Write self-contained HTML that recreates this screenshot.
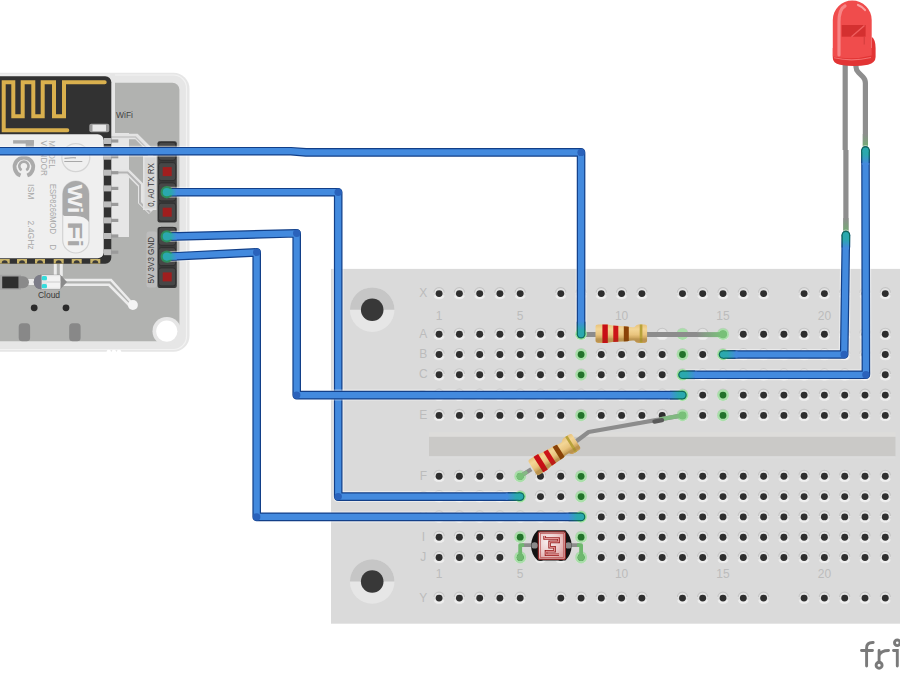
<!DOCTYPE html>
<html><head><meta charset="utf-8"><style>
html,body{margin:0;padding:0;background:#fff;overflow:hidden;}
svg{display:block;}
</style></head><body>
<svg width="900" height="675" viewBox="0 0 900 675">
<defs>
<radialGradient id="hw" cx="0.5" cy="0.5" r="0.5"><stop offset="0.5" stop-color="#efefef"/><stop offset="0.8" stop-color="#e8e8e8"/><stop offset="1" stop-color="#e0e0e0" stop-opacity="0"/></radialGradient>
<linearGradient id="resg" x1="0" y1="0" x2="0" y2="1"><stop offset="0" stop-color="#e8c27c"/><stop offset="0.25" stop-color="#f3d696"/><stop offset="0.55" stop-color="#e9c47e"/><stop offset="0.7" stop-color="#d2aa62"/><stop offset="1" stop-color="#c89e58"/></linearGradient>
</defs>
<rect width="900" height="675" fill="#fff"/>
<g id="esp">
<rect x="-30" y="72.8" width="219.5" height="279" rx="16" fill="#e6e6e6"/>
<rect x="-30" y="75" width="216.5" height="274.5" rx="13" fill="none" stroke="#f2f2f2" stroke-width="1.2"/>
<rect x="-30" y="82.8" width="209.4" height="258.5" rx="7" fill="#b1b2b0"/>
<circle cx="108.8" cy="352" r="2.3" fill="#ffffff"/>
<circle cx="113.9" cy="352" r="2.3" fill="#ffffff"/>
<circle cx="119" cy="352" r="2.3" fill="#ffffff"/>
<circle cx="166.8" cy="331.2" r="14.3" fill="#e6e6e6"/>
<circle cx="166.8" cy="331.2" r="10.6" fill="#fff"/>
<path d="M111 133 L129 133 L129 237 L111 237 Z" fill="#e6e6e6"/>
<rect x="110" y="74" width="5" height="60" fill="#e6e6e6"/>
<path d="M111 136.5 H136.5 L150.5 150.5 V158" fill="none" stroke="#e4e4e4" stroke-width="5.5"/>
<path d="M111 137 H135.5 L148 149.5" fill="none" stroke="#c4c4c4" stroke-width="1.6"/>
<path d="M118 172.4 H128 L141 185.4 V202 L151 212" fill="none" stroke="#e4e4e4" stroke-width="6"/>
<path d="M118 172.4 H127.5 L140 185 V202.5 L150 212.5" fill="none" stroke="#b4b4b4" stroke-width="2"/>
<rect x="143" y="156" width="13.5" height="54" fill="#e2e2e2"/>
<rect x="144.6" y="157.5" width="11" height="51" fill="#d6d6d6"/>
<rect x="146.5" y="231.5" width="10.5" height="56" rx="2.5" fill="#bdbdbd"/>
<path d="M55.3 263 V276 M61.3 263 V276" stroke="#ececec" stroke-width="3"/>
<path d="M60 280 H111 L131 302" fill="none" stroke="#ececec" stroke-width="2.6"/>
<path d="M60 284.8 H109 L129 305" fill="none" stroke="#ececec" stroke-width="2.6"/>
<circle cx="132.9" cy="305" r="5" fill="#f4f4f4"/>
<path d="M24 282 H36" stroke="#ececec" stroke-width="6"/>
<rect x="-3" y="274.8" width="24" height="15" fill="#a3a3a3"/>
<rect x="2.2" y="276.5" width="16.5" height="11.8" fill="#2e2e2e"/>
<path d="M18.7 276.3 H23 A6 6 0 0 1 23 288.3 H18.7 Z" fill="#8a8a8a"/>
<path d="M41 274.7 H60.3 L67 282 L60.3 289.3 H41 A7.3 7.3 0 0 1 41 274.7 Z" fill="#8a8a8a"/>
<path d="M41 274.7 A7.3 7.3 0 0 0 41 289.3 Z" fill="#7c7c88"/>
<rect x="41.7" y="275" width="18.6" height="14" fill="#e4e4e4"/>
<rect x="47" y="276.2" width="13.3" height="11.6" fill="#f2f2f2"/>
<rect x="47" y="281.3" width="13.3" height="1.4" fill="#d8d8d8"/>
<rect x="41.7" y="276" width="5.3" height="4.2" rx="1.5" fill="#36dcdc"/>
<rect x="41.7" y="284" width="5.3" height="4.2" rx="1.5" fill="#36dcdc"/>
<text x="49" y="297.7" font-family="'Liberation Sans', sans-serif" font-size="8.5" fill="#383838" text-anchor="middle">Cloud</text>
<circle cx="34.2" cy="307.8" r="3.4" fill="#2b2b2b"/>
<circle cx="66" cy="307.8" r="3.4" fill="#2b2b2b"/>
<rect x="18.7" y="323.3" width="11.4" height="18" rx="3.5" fill="#888"/>
<rect x="69.2" y="323.3" width="11.4" height="18" rx="3.5" fill="#888"/>
<rect x="-20" y="76.3" width="131.3" height="187.4" rx="6" fill="#323232"/>
<rect x="-0.3" y="259" width="10" height="4.6" fill="#c9b46a"/>
<path d="M1.7 263.2 A3 3 0 0 1 7.7 263.2 Z" fill="#3a3a3a"/>
<rect x="17.0" y="259" width="10" height="4.6" fill="#c9b46a"/>
<path d="M19.0 263.2 A3 3 0 0 1 25.0 263.2 Z" fill="#3a3a3a"/>
<rect x="35.0" y="259" width="10" height="4.6" fill="#c9b46a"/>
<path d="M37.0 263.2 A3 3 0 0 1 43.0 263.2 Z" fill="#3a3a3a"/>
<rect x="53.7" y="259" width="10" height="4.6" fill="#c9b46a"/>
<path d="M55.7 263.2 A3 3 0 0 1 61.7 263.2 Z" fill="#3a3a3a"/>
<rect x="71.7" y="259" width="10" height="4.6" fill="#c9b46a"/>
<path d="M73.7 263.2 A3 3 0 0 1 79.7 263.2 Z" fill="#3a3a3a"/>
<rect x="90.3" y="259" width="10" height="4.6" fill="#c9b46a"/>
<path d="M92.3 263.2 A3 3 0 0 1 98.3 263.2 Z" fill="#3a3a3a"/>
<rect x="104" y="138.0" width="7.5" height="6" fill="#bdbdbd"/>
<rect x="111" y="139.4" width="7.3" height="3.2" fill="#9a9a9a"/>
<rect x="104" y="153.7" width="7.5" height="6" fill="#bdbdbd"/>
<rect x="111" y="155.1" width="7.3" height="3.2" fill="#9a9a9a"/>
<rect x="104" y="169.7" width="7.5" height="6" fill="#bdbdbd"/>
<rect x="111" y="171.1" width="7.3" height="3.2" fill="#9a9a9a"/>
<rect x="104" y="185.4" width="7.5" height="6" fill="#bdbdbd"/>
<rect x="111" y="186.8" width="7.3" height="3.2" fill="#9a9a9a"/>
<rect x="104" y="201.4" width="7.5" height="6" fill="#bdbdbd"/>
<rect x="111" y="202.8" width="7.3" height="3.2" fill="#9a9a9a"/>
<rect x="104" y="217.4" width="7.5" height="6" fill="#bdbdbd"/>
<rect x="111" y="218.8" width="7.3" height="3.2" fill="#9a9a9a"/>
<rect x="104" y="233.0" width="7.5" height="6" fill="#bdbdbd"/>
<rect x="111" y="234.4" width="7.3" height="3.2" fill="#9a9a9a"/>
<rect x="104" y="249.2" width="7.5" height="6" fill="#bdbdbd"/>
<rect x="111" y="250.6" width="7.3" height="3.2" fill="#9a9a9a"/>
<path d="M104.7 82.3 H64 V116.3 H54 V82.3 H42.7 V116.3 H33.3 V82.3 H22.7 V116.3 H13.3 V82.3 H3.7 V130.3 H67.3" fill="none" stroke="#d9b04e" stroke-width="4" stroke-linecap="round" stroke-linejoin="miter"/>
<rect x="89.3" y="123.7" width="20" height="8.6" rx="2" fill="#9c9c9c"/>
<rect x="92.5" y="124.8" width="13.5" height="6.4" fill="#e8e8e8"/>
<rect x="-20" y="134.2" width="123.7" height="124.1" rx="6" fill="#efefef"/>
<g fill="#aaaaaa">
<rect x="13.1" y="140.2" width="20.8" height="3.4"/>
<rect x="25.7" y="140.2" width="8.2" height="7"/>
</g>
<path d="M20.5 175.5 A9.3 9.3 0 1 1 27.3 175.5" fill="none" stroke="#aaaaaa" stroke-width="3.8"/>
<path d="M21.6 170.2 A4.6 4.6 0 1 1 26.2 170.2" fill="none" stroke="#aaaaaa" stroke-width="2.6"/>
<g font-family="'Liberation Sans', sans-serif" font-size="9" fill="#a9a9a9">
<text transform="translate(49.4 140.6) rotate(90)" textLength="28" lengthAdjust="spacingAndGlyphs">MODEL</text>
<text transform="translate(41 140.6) rotate(90)" textLength="35.4" lengthAdjust="spacingAndGlyphs">VENDOR</text>
<text transform="translate(28 184) rotate(90)" textLength="15.4" lengthAdjust="spacingAndGlyphs">ISM</text>
<text transform="translate(28 220.6) rotate(90)" textLength="29" lengthAdjust="spacingAndGlyphs">2.4GHz</text>
<text transform="translate(49.6 184) rotate(90)" textLength="50" lengthAdjust="spacingAndGlyphs">ESP8266MOD</text>
<text transform="translate(49.6 244.6) rotate(90)" textLength="5.5" lengthAdjust="spacingAndGlyphs">D</text>
</g>
<circle cx="75.8" cy="157.6" r="14" fill="none" stroke="#d4d4d4" stroke-width="1.3"/>
<path d="M64.5 158.3 Q70 157.6 76 157.8 M64.3 161.5 H82.3" stroke="#a8a8a8" stroke-width="1.2"/>
<rect x="62.7" y="181" width="26.3" height="72" rx="13.1" fill="#f2f2f2" stroke="#d2d2d2" stroke-width="1.2"/>
<path d="M62.7 214 V194.1 A13.15 13.15 0 0 1 89 194.1 V222 Q85 216 76 216 H66 Q62.7 216 62.7 214 Z" fill="#a9a9a9"/>
<text transform="translate(67.5 184.5) rotate(90)" font-family="'Liberation Sans', sans-serif" font-size="21" font-weight="bold" fill="#f2f2f2" textLength="29" lengthAdjust="spacingAndGlyphs">Wi</text>
<text transform="translate(67.5 221.5) rotate(90)" font-family="'Liberation Sans', sans-serif" font-size="21" font-weight="bold" fill="#a9a9a9" textLength="26" lengthAdjust="spacingAndGlyphs">Fi</text>
<text x="116" y="117.5" font-family="'Liberation Sans', sans-serif" font-size="8.5" fill="#444">WiFi</text>
<rect x="157.5" y="141.2" width="19.3" height="81.2" rx="2" fill="#3a3a3a"/>
<rect x="157.5" y="227.1" width="19.3" height="60.9" rx="2" fill="#3a3a3a"/>
<rect x="158.6" y="142.3" width="17.1" height="18" rx="2.6" fill="#474747" stroke="#2c2c2c" stroke-width="0.9"/>
<rect x="158.6" y="162.6" width="17.1" height="18" rx="2.6" fill="#474747" stroke="#2c2c2c" stroke-width="0.9"/>
<rect x="162.7" y="167.1" width="9" height="9" fill="#a01e1e"/>
<rect x="158.6" y="182.9" width="17.1" height="18" rx="2.6" fill="#474747" stroke="#2c2c2c" stroke-width="0.9"/>
<rect x="158.6" y="203.2" width="17.1" height="18" rx="2.6" fill="#474747" stroke="#2c2c2c" stroke-width="0.9"/>
<rect x="162.7" y="207.7" width="9" height="9" fill="#a01e1e"/>
<rect x="158.6" y="227.3" width="17.1" height="18" rx="2.6" fill="#474747" stroke="#2c2c2c" stroke-width="0.9"/>
<rect x="158.6" y="247.6" width="17.1" height="18" rx="2.6" fill="#474747" stroke="#2c2c2c" stroke-width="0.9"/>
<rect x="158.6" y="267.9" width="17.1" height="18" rx="2.6" fill="#474747" stroke="#2c2c2c" stroke-width="0.9"/>
<rect x="162.7" y="272.4" width="9" height="9" fill="#a01e1e"/>
<g font-family="'Liberation Sans', sans-serif" font-size="8.2" fill="#3a3a3a">
<text transform="translate(154 206.8) rotate(-90)" textLength="43.5" lengthAdjust="spacingAndGlyphs">0, A0 TX RX</text>
<text transform="translate(154.2 283.5) rotate(-90)" textLength="46.5" lengthAdjust="spacingAndGlyphs">5V 3V3 GND</text>
</g>
</g>
<g id="bb">
<rect x="331" y="268.9" width="580" height="354.8" fill="#dadada"/>
<rect x="429" y="432.2" width="466.5" height="4.6" fill="#dddcda"/>
<rect x="429" y="436.8" width="466.5" height="19.6" fill="#cac9c7"/>
<rect x="429" y="456.4" width="466.5" height="2" fill="#dcdcdc"/>
<circle cx="372.2" cy="309.7" r="22.3" fill="#e6e6e6"/>
<path d="M349.9 309.7 A22.3 22.3 0 0 1 394.5 309.7 Z" fill="#c6c6c6"/>
<circle cx="372.2" cy="309.7" r="11.3" fill="#383838"/>
<circle cx="372.2" cy="581.5" r="22.3" fill="#e6e6e6"/>
<path d="M349.9 581.5 A22.3 22.3 0 0 1 394.5 581.5 Z" fill="#c6c6c6"/>
<circle cx="372.2" cy="581.5" r="11.3" fill="#383838"/>
<g>
<g transform="translate(439.1 334.2)"><path d="M-6.3 0A6.3 6.3 0 0 0 6.3 0Z" fill="url(#hw)"/><path d="M-6 0A6 6 0 0 1 6 0Z" fill="#e3e3e3"/><path d="M-5.2-.8A5.2 5.2 0 0 1 5.2-.8" fill="none" stroke="#c5c5c5" stroke-width="1.1"/><circle r="3.45" fill="#2e2e2e"/></g>
<g transform="translate(459.4 334.2)"><path d="M-6.3 0A6.3 6.3 0 0 0 6.3 0Z" fill="url(#hw)"/><path d="M-6 0A6 6 0 0 1 6 0Z" fill="#e3e3e3"/><path d="M-5.2-.8A5.2 5.2 0 0 1 5.2-.8" fill="none" stroke="#c5c5c5" stroke-width="1.1"/><circle r="3.45" fill="#2e2e2e"/></g>
<g transform="translate(479.7 334.2)"><path d="M-6.3 0A6.3 6.3 0 0 0 6.3 0Z" fill="url(#hw)"/><path d="M-6 0A6 6 0 0 1 6 0Z" fill="#e3e3e3"/><path d="M-5.2-.8A5.2 5.2 0 0 1 5.2-.8" fill="none" stroke="#c5c5c5" stroke-width="1.1"/><circle r="3.45" fill="#2e2e2e"/></g>
<g transform="translate(499.9 334.2)"><path d="M-6.3 0A6.3 6.3 0 0 0 6.3 0Z" fill="url(#hw)"/><path d="M-6 0A6 6 0 0 1 6 0Z" fill="#e3e3e3"/><path d="M-5.2-.8A5.2 5.2 0 0 1 5.2-.8" fill="none" stroke="#c5c5c5" stroke-width="1.1"/><circle r="3.45" fill="#2e2e2e"/></g>
<g transform="translate(520.2 334.2)"><path d="M-6.3 0A6.3 6.3 0 0 0 6.3 0Z" fill="url(#hw)"/><path d="M-6 0A6 6 0 0 1 6 0Z" fill="#e3e3e3"/><path d="M-5.2-.8A5.2 5.2 0 0 1 5.2-.8" fill="none" stroke="#c5c5c5" stroke-width="1.1"/><circle r="3.45" fill="#2e2e2e"/></g>
<g transform="translate(540.5 334.2)"><path d="M-6.3 0A6.3 6.3 0 0 0 6.3 0Z" fill="url(#hw)"/><path d="M-6 0A6 6 0 0 1 6 0Z" fill="#e3e3e3"/><path d="M-5.2-.8A5.2 5.2 0 0 1 5.2-.8" fill="none" stroke="#c5c5c5" stroke-width="1.1"/><circle r="3.45" fill="#2e2e2e"/></g>
<g transform="translate(560.8 334.2)"><path d="M-6.3 0A6.3 6.3 0 0 0 6.3 0Z" fill="url(#hw)"/><path d="M-6 0A6 6 0 0 1 6 0Z" fill="#e3e3e3"/><path d="M-5.2-.8A5.2 5.2 0 0 1 5.2-.8" fill="none" stroke="#c5c5c5" stroke-width="1.1"/><circle r="3.45" fill="#2e2e2e"/></g>
<g transform="translate(581.1 334.2)"><path d="M-6.3 0A6.3 6.3 0 0 0 6.3 0Z" fill="url(#hw)"/><path d="M-6 0A6 6 0 0 1 6 0Z" fill="#e3e3e3"/><path d="M-5.2-.8A5.2 5.2 0 0 1 5.2-.8" fill="none" stroke="#c5c5c5" stroke-width="1.1"/><circle r="3.45" fill="#2e2e2e"/></g>
<g transform="translate(601.3 334.2)"><path d="M-6.3 0A6.3 6.3 0 0 0 6.3 0Z" fill="url(#hw)"/><path d="M-6 0A6 6 0 0 1 6 0Z" fill="#e3e3e3"/><path d="M-5.2-.8A5.2 5.2 0 0 1 5.2-.8" fill="none" stroke="#c5c5c5" stroke-width="1.1"/></g>
<g transform="translate(621.6 334.2)"><path d="M-6.3 0A6.3 6.3 0 0 0 6.3 0Z" fill="url(#hw)"/><path d="M-6 0A6 6 0 0 1 6 0Z" fill="#e3e3e3"/><path d="M-5.2-.8A5.2 5.2 0 0 1 5.2-.8" fill="none" stroke="#c5c5c5" stroke-width="1.1"/></g>
<g transform="translate(641.9 334.2)"><path d="M-6.3 0A6.3 6.3 0 0 0 6.3 0Z" fill="url(#hw)"/><path d="M-6 0A6 6 0 0 1 6 0Z" fill="#e3e3e3"/><path d="M-5.2-.8A5.2 5.2 0 0 1 5.2-.8" fill="none" stroke="#c5c5c5" stroke-width="1.1"/></g>
<g transform="translate(662.2 334.2)"><path d="M-6.3 0A6.3 6.3 0 0 0 6.3 0Z" fill="url(#hw)"/><path d="M-6 0A6 6 0 0 1 6 0Z" fill="#e3e3e3"/><path d="M-5.2-.8A5.2 5.2 0 0 1 5.2-.8" fill="none" stroke="#c5c5c5" stroke-width="1.1"/></g>
<g transform="translate(682.5 334.2)"><path d="M-6.3 0A6.3 6.3 0 0 0 6.3 0Z" fill="url(#hw)"/><path d="M-6 0A6 6 0 0 1 6 0Z" fill="#e3e3e3"/><path d="M-5.2-.8A5.2 5.2 0 0 1 5.2-.8" fill="none" stroke="#c5c5c5" stroke-width="1.1"/></g>
<g transform="translate(702.7 334.2)"><path d="M-6.3 0A6.3 6.3 0 0 0 6.3 0Z" fill="url(#hw)"/><path d="M-6 0A6 6 0 0 1 6 0Z" fill="#e3e3e3"/><path d="M-5.2-.8A5.2 5.2 0 0 1 5.2-.8" fill="none" stroke="#c5c5c5" stroke-width="1.1"/></g>
<g transform="translate(723 334.2)"><path d="M-6.3 0A6.3 6.3 0 0 0 6.3 0Z" fill="url(#hw)"/><path d="M-6 0A6 6 0 0 1 6 0Z" fill="#e3e3e3"/><path d="M-5.2-.8A5.2 5.2 0 0 1 5.2-.8" fill="none" stroke="#c5c5c5" stroke-width="1.1"/><circle r="3.45" fill="#2e2e2e"/></g>
<g transform="translate(743.3 334.2)"><path d="M-6.3 0A6.3 6.3 0 0 0 6.3 0Z" fill="url(#hw)"/><path d="M-6 0A6 6 0 0 1 6 0Z" fill="#e3e3e3"/><path d="M-5.2-.8A5.2 5.2 0 0 1 5.2-.8" fill="none" stroke="#c5c5c5" stroke-width="1.1"/><circle r="3.45" fill="#2e2e2e"/></g>
<g transform="translate(763.6 334.2)"><path d="M-6.3 0A6.3 6.3 0 0 0 6.3 0Z" fill="url(#hw)"/><path d="M-6 0A6 6 0 0 1 6 0Z" fill="#e3e3e3"/><path d="M-5.2-.8A5.2 5.2 0 0 1 5.2-.8" fill="none" stroke="#c5c5c5" stroke-width="1.1"/><circle r="3.45" fill="#2e2e2e"/></g>
<g transform="translate(783.9 334.2)"><path d="M-6.3 0A6.3 6.3 0 0 0 6.3 0Z" fill="url(#hw)"/><path d="M-6 0A6 6 0 0 1 6 0Z" fill="#e3e3e3"/><path d="M-5.2-.8A5.2 5.2 0 0 1 5.2-.8" fill="none" stroke="#c5c5c5" stroke-width="1.1"/><circle r="3.45" fill="#2e2e2e"/></g>
<g transform="translate(804.1 334.2)"><path d="M-6.3 0A6.3 6.3 0 0 0 6.3 0Z" fill="url(#hw)"/><path d="M-6 0A6 6 0 0 1 6 0Z" fill="#e3e3e3"/><path d="M-5.2-.8A5.2 5.2 0 0 1 5.2-.8" fill="none" stroke="#c5c5c5" stroke-width="1.1"/><circle r="3.45" fill="#2e2e2e"/></g>
<g transform="translate(824.4 334.2)"><path d="M-6.3 0A6.3 6.3 0 0 0 6.3 0Z" fill="url(#hw)"/><path d="M-6 0A6 6 0 0 1 6 0Z" fill="#e3e3e3"/><path d="M-5.2-.8A5.2 5.2 0 0 1 5.2-.8" fill="none" stroke="#c5c5c5" stroke-width="1.1"/><circle r="3.45" fill="#2e2e2e"/></g>
<g transform="translate(844.7 334.2)"><path d="M-6.3 0A6.3 6.3 0 0 0 6.3 0Z" fill="url(#hw)"/><path d="M-6 0A6 6 0 0 1 6 0Z" fill="#e3e3e3"/><path d="M-5.2-.8A5.2 5.2 0 0 1 5.2-.8" fill="none" stroke="#c5c5c5" stroke-width="1.1"/><circle r="3.45" fill="#2e2e2e"/></g>
<g transform="translate(865 334.2)"><path d="M-6.3 0A6.3 6.3 0 0 0 6.3 0Z" fill="url(#hw)"/><path d="M-6 0A6 6 0 0 1 6 0Z" fill="#e3e3e3"/><path d="M-5.2-.8A5.2 5.2 0 0 1 5.2-.8" fill="none" stroke="#c5c5c5" stroke-width="1.1"/><circle r="3.45" fill="#2e2e2e"/></g>
<g transform="translate(885.3 334.2)"><path d="M-6.3 0A6.3 6.3 0 0 0 6.3 0Z" fill="url(#hw)"/><path d="M-6 0A6 6 0 0 1 6 0Z" fill="#e3e3e3"/><path d="M-5.2-.8A5.2 5.2 0 0 1 5.2-.8" fill="none" stroke="#c5c5c5" stroke-width="1.1"/><circle r="3.45" fill="#2e2e2e"/></g>
<g transform="translate(439.1 354.5)"><path d="M-6.3 0A6.3 6.3 0 0 0 6.3 0Z" fill="url(#hw)"/><path d="M-6 0A6 6 0 0 1 6 0Z" fill="#e3e3e3"/><path d="M-5.2-.8A5.2 5.2 0 0 1 5.2-.8" fill="none" stroke="#c5c5c5" stroke-width="1.1"/><circle r="3.45" fill="#2e2e2e"/></g>
<g transform="translate(459.4 354.5)"><path d="M-6.3 0A6.3 6.3 0 0 0 6.3 0Z" fill="url(#hw)"/><path d="M-6 0A6 6 0 0 1 6 0Z" fill="#e3e3e3"/><path d="M-5.2-.8A5.2 5.2 0 0 1 5.2-.8" fill="none" stroke="#c5c5c5" stroke-width="1.1"/><circle r="3.45" fill="#2e2e2e"/></g>
<g transform="translate(479.7 354.5)"><path d="M-6.3 0A6.3 6.3 0 0 0 6.3 0Z" fill="url(#hw)"/><path d="M-6 0A6 6 0 0 1 6 0Z" fill="#e3e3e3"/><path d="M-5.2-.8A5.2 5.2 0 0 1 5.2-.8" fill="none" stroke="#c5c5c5" stroke-width="1.1"/><circle r="3.45" fill="#2e2e2e"/></g>
<g transform="translate(499.9 354.5)"><path d="M-6.3 0A6.3 6.3 0 0 0 6.3 0Z" fill="url(#hw)"/><path d="M-6 0A6 6 0 0 1 6 0Z" fill="#e3e3e3"/><path d="M-5.2-.8A5.2 5.2 0 0 1 5.2-.8" fill="none" stroke="#c5c5c5" stroke-width="1.1"/><circle r="3.45" fill="#2e2e2e"/></g>
<g transform="translate(520.2 354.5)"><path d="M-6.3 0A6.3 6.3 0 0 0 6.3 0Z" fill="url(#hw)"/><path d="M-6 0A6 6 0 0 1 6 0Z" fill="#e3e3e3"/><path d="M-5.2-.8A5.2 5.2 0 0 1 5.2-.8" fill="none" stroke="#c5c5c5" stroke-width="1.1"/><circle r="3.45" fill="#2e2e2e"/></g>
<g transform="translate(540.5 354.5)"><path d="M-6.3 0A6.3 6.3 0 0 0 6.3 0Z" fill="url(#hw)"/><path d="M-6 0A6 6 0 0 1 6 0Z" fill="#e3e3e3"/><path d="M-5.2-.8A5.2 5.2 0 0 1 5.2-.8" fill="none" stroke="#c5c5c5" stroke-width="1.1"/><circle r="3.45" fill="#2e2e2e"/></g>
<g transform="translate(560.8 354.5)"><path d="M-6.3 0A6.3 6.3 0 0 0 6.3 0Z" fill="url(#hw)"/><path d="M-6 0A6 6 0 0 1 6 0Z" fill="#e3e3e3"/><path d="M-5.2-.8A5.2 5.2 0 0 1 5.2-.8" fill="none" stroke="#c5c5c5" stroke-width="1.1"/><circle r="3.45" fill="#2e2e2e"/></g>
<g transform="translate(581.1 354.5)"><path d="M-6.3 0A6.3 6.3 0 0 0 6.3 0Z" fill="url(#hw)"/><path d="M-6 0A6 6 0 0 1 6 0Z" fill="#e3e3e3"/><path d="M-5.2-.8A5.2 5.2 0 0 1 5.2-.8" fill="none" stroke="#c5c5c5" stroke-width="1.1"/><circle r="3.45" fill="#2e2e2e"/></g>
<g transform="translate(601.3 354.5)"><path d="M-6.3 0A6.3 6.3 0 0 0 6.3 0Z" fill="url(#hw)"/><path d="M-6 0A6 6 0 0 1 6 0Z" fill="#e3e3e3"/><path d="M-5.2-.8A5.2 5.2 0 0 1 5.2-.8" fill="none" stroke="#c5c5c5" stroke-width="1.1"/><circle r="3.45" fill="#2e2e2e"/></g>
<g transform="translate(621.6 354.5)"><path d="M-6.3 0A6.3 6.3 0 0 0 6.3 0Z" fill="url(#hw)"/><path d="M-6 0A6 6 0 0 1 6 0Z" fill="#e3e3e3"/><path d="M-5.2-.8A5.2 5.2 0 0 1 5.2-.8" fill="none" stroke="#c5c5c5" stroke-width="1.1"/><circle r="3.45" fill="#2e2e2e"/></g>
<g transform="translate(641.9 354.5)"><path d="M-6.3 0A6.3 6.3 0 0 0 6.3 0Z" fill="url(#hw)"/><path d="M-6 0A6 6 0 0 1 6 0Z" fill="#e3e3e3"/><path d="M-5.2-.8A5.2 5.2 0 0 1 5.2-.8" fill="none" stroke="#c5c5c5" stroke-width="1.1"/><circle r="3.45" fill="#2e2e2e"/></g>
<g transform="translate(662.2 354.5)"><path d="M-6.3 0A6.3 6.3 0 0 0 6.3 0Z" fill="url(#hw)"/><path d="M-6 0A6 6 0 0 1 6 0Z" fill="#e3e3e3"/><path d="M-5.2-.8A5.2 5.2 0 0 1 5.2-.8" fill="none" stroke="#c5c5c5" stroke-width="1.1"/><circle r="3.45" fill="#2e2e2e"/></g>
<g transform="translate(682.5 354.5)"><path d="M-6.3 0A6.3 6.3 0 0 0 6.3 0Z" fill="url(#hw)"/><path d="M-6 0A6 6 0 0 1 6 0Z" fill="#e3e3e3"/><path d="M-5.2-.8A5.2 5.2 0 0 1 5.2-.8" fill="none" stroke="#c5c5c5" stroke-width="1.1"/><circle r="3.45" fill="#2e2e2e"/></g>
<g transform="translate(702.7 354.5)"><path d="M-6.3 0A6.3 6.3 0 0 0 6.3 0Z" fill="url(#hw)"/><path d="M-6 0A6 6 0 0 1 6 0Z" fill="#e3e3e3"/><path d="M-5.2-.8A5.2 5.2 0 0 1 5.2-.8" fill="none" stroke="#c5c5c5" stroke-width="1.1"/><circle r="3.45" fill="#2e2e2e"/></g>
<g transform="translate(723 354.5)"><path d="M-6.3 0A6.3 6.3 0 0 0 6.3 0Z" fill="url(#hw)"/><path d="M-6 0A6 6 0 0 1 6 0Z" fill="#e3e3e3"/><path d="M-5.2-.8A5.2 5.2 0 0 1 5.2-.8" fill="none" stroke="#c5c5c5" stroke-width="1.1"/><circle r="3.45" fill="#2e2e2e"/></g>
<g transform="translate(743.3 354.5)"><path d="M-6.3 0A6.3 6.3 0 0 0 6.3 0Z" fill="url(#hw)"/><path d="M-6 0A6 6 0 0 1 6 0Z" fill="#e3e3e3"/><path d="M-5.2-.8A5.2 5.2 0 0 1 5.2-.8" fill="none" stroke="#c5c5c5" stroke-width="1.1"/><circle r="3.45" fill="#2e2e2e"/></g>
<g transform="translate(763.6 354.5)"><path d="M-6.3 0A6.3 6.3 0 0 0 6.3 0Z" fill="url(#hw)"/><path d="M-6 0A6 6 0 0 1 6 0Z" fill="#e3e3e3"/><path d="M-5.2-.8A5.2 5.2 0 0 1 5.2-.8" fill="none" stroke="#c5c5c5" stroke-width="1.1"/><circle r="3.45" fill="#2e2e2e"/></g>
<g transform="translate(783.9 354.5)"><path d="M-6.3 0A6.3 6.3 0 0 0 6.3 0Z" fill="url(#hw)"/><path d="M-6 0A6 6 0 0 1 6 0Z" fill="#e3e3e3"/><path d="M-5.2-.8A5.2 5.2 0 0 1 5.2-.8" fill="none" stroke="#c5c5c5" stroke-width="1.1"/><circle r="3.45" fill="#2e2e2e"/></g>
<g transform="translate(804.1 354.5)"><path d="M-6.3 0A6.3 6.3 0 0 0 6.3 0Z" fill="url(#hw)"/><path d="M-6 0A6 6 0 0 1 6 0Z" fill="#e3e3e3"/><path d="M-5.2-.8A5.2 5.2 0 0 1 5.2-.8" fill="none" stroke="#c5c5c5" stroke-width="1.1"/><circle r="3.45" fill="#2e2e2e"/></g>
<g transform="translate(824.4 354.5)"><path d="M-6.3 0A6.3 6.3 0 0 0 6.3 0Z" fill="url(#hw)"/><path d="M-6 0A6 6 0 0 1 6 0Z" fill="#e3e3e3"/><path d="M-5.2-.8A5.2 5.2 0 0 1 5.2-.8" fill="none" stroke="#c5c5c5" stroke-width="1.1"/><circle r="3.45" fill="#2e2e2e"/></g>
<g transform="translate(844.7 354.5)"><path d="M-6.3 0A6.3 6.3 0 0 0 6.3 0Z" fill="url(#hw)"/><path d="M-6 0A6 6 0 0 1 6 0Z" fill="#e3e3e3"/><path d="M-5.2-.8A5.2 5.2 0 0 1 5.2-.8" fill="none" stroke="#c5c5c5" stroke-width="1.1"/><circle r="3.45" fill="#2e2e2e"/></g>
<g transform="translate(865 354.5)"><path d="M-6.3 0A6.3 6.3 0 0 0 6.3 0Z" fill="url(#hw)"/><path d="M-6 0A6 6 0 0 1 6 0Z" fill="#e3e3e3"/><path d="M-5.2-.8A5.2 5.2 0 0 1 5.2-.8" fill="none" stroke="#c5c5c5" stroke-width="1.1"/><circle r="3.45" fill="#2e2e2e"/></g>
<g transform="translate(885.3 354.5)"><path d="M-6.3 0A6.3 6.3 0 0 0 6.3 0Z" fill="url(#hw)"/><path d="M-6 0A6 6 0 0 1 6 0Z" fill="#e3e3e3"/><path d="M-5.2-.8A5.2 5.2 0 0 1 5.2-.8" fill="none" stroke="#c5c5c5" stroke-width="1.1"/><circle r="3.45" fill="#2e2e2e"/></g>
<g transform="translate(439.1 374.8)"><path d="M-6.3 0A6.3 6.3 0 0 0 6.3 0Z" fill="url(#hw)"/><path d="M-6 0A6 6 0 0 1 6 0Z" fill="#e3e3e3"/><path d="M-5.2-.8A5.2 5.2 0 0 1 5.2-.8" fill="none" stroke="#c5c5c5" stroke-width="1.1"/><circle r="3.45" fill="#2e2e2e"/></g>
<g transform="translate(459.4 374.8)"><path d="M-6.3 0A6.3 6.3 0 0 0 6.3 0Z" fill="url(#hw)"/><path d="M-6 0A6 6 0 0 1 6 0Z" fill="#e3e3e3"/><path d="M-5.2-.8A5.2 5.2 0 0 1 5.2-.8" fill="none" stroke="#c5c5c5" stroke-width="1.1"/><circle r="3.45" fill="#2e2e2e"/></g>
<g transform="translate(479.7 374.8)"><path d="M-6.3 0A6.3 6.3 0 0 0 6.3 0Z" fill="url(#hw)"/><path d="M-6 0A6 6 0 0 1 6 0Z" fill="#e3e3e3"/><path d="M-5.2-.8A5.2 5.2 0 0 1 5.2-.8" fill="none" stroke="#c5c5c5" stroke-width="1.1"/><circle r="3.45" fill="#2e2e2e"/></g>
<g transform="translate(499.9 374.8)"><path d="M-6.3 0A6.3 6.3 0 0 0 6.3 0Z" fill="url(#hw)"/><path d="M-6 0A6 6 0 0 1 6 0Z" fill="#e3e3e3"/><path d="M-5.2-.8A5.2 5.2 0 0 1 5.2-.8" fill="none" stroke="#c5c5c5" stroke-width="1.1"/><circle r="3.45" fill="#2e2e2e"/></g>
<g transform="translate(520.2 374.8)"><path d="M-6.3 0A6.3 6.3 0 0 0 6.3 0Z" fill="url(#hw)"/><path d="M-6 0A6 6 0 0 1 6 0Z" fill="#e3e3e3"/><path d="M-5.2-.8A5.2 5.2 0 0 1 5.2-.8" fill="none" stroke="#c5c5c5" stroke-width="1.1"/><circle r="3.45" fill="#2e2e2e"/></g>
<g transform="translate(540.5 374.8)"><path d="M-6.3 0A6.3 6.3 0 0 0 6.3 0Z" fill="url(#hw)"/><path d="M-6 0A6 6 0 0 1 6 0Z" fill="#e3e3e3"/><path d="M-5.2-.8A5.2 5.2 0 0 1 5.2-.8" fill="none" stroke="#c5c5c5" stroke-width="1.1"/><circle r="3.45" fill="#2e2e2e"/></g>
<g transform="translate(560.8 374.8)"><path d="M-6.3 0A6.3 6.3 0 0 0 6.3 0Z" fill="url(#hw)"/><path d="M-6 0A6 6 0 0 1 6 0Z" fill="#e3e3e3"/><path d="M-5.2-.8A5.2 5.2 0 0 1 5.2-.8" fill="none" stroke="#c5c5c5" stroke-width="1.1"/><circle r="3.45" fill="#2e2e2e"/></g>
<g transform="translate(581.1 374.8)"><path d="M-6.3 0A6.3 6.3 0 0 0 6.3 0Z" fill="url(#hw)"/><path d="M-6 0A6 6 0 0 1 6 0Z" fill="#e3e3e3"/><path d="M-5.2-.8A5.2 5.2 0 0 1 5.2-.8" fill="none" stroke="#c5c5c5" stroke-width="1.1"/><circle r="3.45" fill="#2e2e2e"/></g>
<g transform="translate(601.3 374.8)"><path d="M-6.3 0A6.3 6.3 0 0 0 6.3 0Z" fill="url(#hw)"/><path d="M-6 0A6 6 0 0 1 6 0Z" fill="#e3e3e3"/><path d="M-5.2-.8A5.2 5.2 0 0 1 5.2-.8" fill="none" stroke="#c5c5c5" stroke-width="1.1"/><circle r="3.45" fill="#2e2e2e"/></g>
<g transform="translate(621.6 374.8)"><path d="M-6.3 0A6.3 6.3 0 0 0 6.3 0Z" fill="url(#hw)"/><path d="M-6 0A6 6 0 0 1 6 0Z" fill="#e3e3e3"/><path d="M-5.2-.8A5.2 5.2 0 0 1 5.2-.8" fill="none" stroke="#c5c5c5" stroke-width="1.1"/><circle r="3.45" fill="#2e2e2e"/></g>
<g transform="translate(641.9 374.8)"><path d="M-6.3 0A6.3 6.3 0 0 0 6.3 0Z" fill="url(#hw)"/><path d="M-6 0A6 6 0 0 1 6 0Z" fill="#e3e3e3"/><path d="M-5.2-.8A5.2 5.2 0 0 1 5.2-.8" fill="none" stroke="#c5c5c5" stroke-width="1.1"/><circle r="3.45" fill="#2e2e2e"/></g>
<g transform="translate(662.2 374.8)"><path d="M-6.3 0A6.3 6.3 0 0 0 6.3 0Z" fill="url(#hw)"/><path d="M-6 0A6 6 0 0 1 6 0Z" fill="#e3e3e3"/><path d="M-5.2-.8A5.2 5.2 0 0 1 5.2-.8" fill="none" stroke="#c5c5c5" stroke-width="1.1"/><circle r="3.45" fill="#2e2e2e"/></g>
<g transform="translate(682.5 374.8)"><path d="M-6.3 0A6.3 6.3 0 0 0 6.3 0Z" fill="url(#hw)"/><path d="M-6 0A6 6 0 0 1 6 0Z" fill="#e3e3e3"/><path d="M-5.2-.8A5.2 5.2 0 0 1 5.2-.8" fill="none" stroke="#c5c5c5" stroke-width="1.1"/><circle r="3.45" fill="#2e2e2e"/></g>
<g transform="translate(702.7 374.8)"><path d="M-6.3 0A6.3 6.3 0 0 0 6.3 0Z" fill="url(#hw)"/><path d="M-6 0A6 6 0 0 1 6 0Z" fill="#e3e3e3"/><path d="M-5.2-.8A5.2 5.2 0 0 1 5.2-.8" fill="none" stroke="#c5c5c5" stroke-width="1.1"/><circle r="3.45" fill="#2e2e2e"/></g>
<g transform="translate(723 374.8)"><path d="M-6.3 0A6.3 6.3 0 0 0 6.3 0Z" fill="url(#hw)"/><path d="M-6 0A6 6 0 0 1 6 0Z" fill="#e3e3e3"/><path d="M-5.2-.8A5.2 5.2 0 0 1 5.2-.8" fill="none" stroke="#c5c5c5" stroke-width="1.1"/><circle r="3.45" fill="#2e2e2e"/></g>
<g transform="translate(743.3 374.8)"><path d="M-6.3 0A6.3 6.3 0 0 0 6.3 0Z" fill="url(#hw)"/><path d="M-6 0A6 6 0 0 1 6 0Z" fill="#e3e3e3"/><path d="M-5.2-.8A5.2 5.2 0 0 1 5.2-.8" fill="none" stroke="#c5c5c5" stroke-width="1.1"/><circle r="3.45" fill="#2e2e2e"/></g>
<g transform="translate(763.6 374.8)"><path d="M-6.3 0A6.3 6.3 0 0 0 6.3 0Z" fill="url(#hw)"/><path d="M-6 0A6 6 0 0 1 6 0Z" fill="#e3e3e3"/><path d="M-5.2-.8A5.2 5.2 0 0 1 5.2-.8" fill="none" stroke="#c5c5c5" stroke-width="1.1"/><circle r="3.45" fill="#2e2e2e"/></g>
<g transform="translate(783.9 374.8)"><path d="M-6.3 0A6.3 6.3 0 0 0 6.3 0Z" fill="url(#hw)"/><path d="M-6 0A6 6 0 0 1 6 0Z" fill="#e3e3e3"/><path d="M-5.2-.8A5.2 5.2 0 0 1 5.2-.8" fill="none" stroke="#c5c5c5" stroke-width="1.1"/><circle r="3.45" fill="#2e2e2e"/></g>
<g transform="translate(804.1 374.8)"><path d="M-6.3 0A6.3 6.3 0 0 0 6.3 0Z" fill="url(#hw)"/><path d="M-6 0A6 6 0 0 1 6 0Z" fill="#e3e3e3"/><path d="M-5.2-.8A5.2 5.2 0 0 1 5.2-.8" fill="none" stroke="#c5c5c5" stroke-width="1.1"/><circle r="3.45" fill="#2e2e2e"/></g>
<g transform="translate(824.4 374.8)"><path d="M-6.3 0A6.3 6.3 0 0 0 6.3 0Z" fill="url(#hw)"/><path d="M-6 0A6 6 0 0 1 6 0Z" fill="#e3e3e3"/><path d="M-5.2-.8A5.2 5.2 0 0 1 5.2-.8" fill="none" stroke="#c5c5c5" stroke-width="1.1"/><circle r="3.45" fill="#2e2e2e"/></g>
<g transform="translate(844.7 374.8)"><path d="M-6.3 0A6.3 6.3 0 0 0 6.3 0Z" fill="url(#hw)"/><path d="M-6 0A6 6 0 0 1 6 0Z" fill="#e3e3e3"/><path d="M-5.2-.8A5.2 5.2 0 0 1 5.2-.8" fill="none" stroke="#c5c5c5" stroke-width="1.1"/><circle r="3.45" fill="#2e2e2e"/></g>
<g transform="translate(865 374.8)"><path d="M-6.3 0A6.3 6.3 0 0 0 6.3 0Z" fill="url(#hw)"/><path d="M-6 0A6 6 0 0 1 6 0Z" fill="#e3e3e3"/><path d="M-5.2-.8A5.2 5.2 0 0 1 5.2-.8" fill="none" stroke="#c5c5c5" stroke-width="1.1"/><circle r="3.45" fill="#2e2e2e"/></g>
<g transform="translate(885.3 374.8)"><path d="M-6.3 0A6.3 6.3 0 0 0 6.3 0Z" fill="url(#hw)"/><path d="M-6 0A6 6 0 0 1 6 0Z" fill="#e3e3e3"/><path d="M-5.2-.8A5.2 5.2 0 0 1 5.2-.8" fill="none" stroke="#c5c5c5" stroke-width="1.1"/><circle r="3.45" fill="#2e2e2e"/></g>
<g transform="translate(439.1 395.1)"><path d="M-6.3 0A6.3 6.3 0 0 0 6.3 0Z" fill="url(#hw)"/><path d="M-6 0A6 6 0 0 1 6 0Z" fill="#e3e3e3"/><path d="M-5.2-.8A5.2 5.2 0 0 1 5.2-.8" fill="none" stroke="#c5c5c5" stroke-width="1.1"/><circle r="3.45" fill="#2e2e2e"/></g>
<g transform="translate(459.4 395.1)"><path d="M-6.3 0A6.3 6.3 0 0 0 6.3 0Z" fill="url(#hw)"/><path d="M-6 0A6 6 0 0 1 6 0Z" fill="#e3e3e3"/><path d="M-5.2-.8A5.2 5.2 0 0 1 5.2-.8" fill="none" stroke="#c5c5c5" stroke-width="1.1"/><circle r="3.45" fill="#2e2e2e"/></g>
<g transform="translate(479.7 395.1)"><path d="M-6.3 0A6.3 6.3 0 0 0 6.3 0Z" fill="url(#hw)"/><path d="M-6 0A6 6 0 0 1 6 0Z" fill="#e3e3e3"/><path d="M-5.2-.8A5.2 5.2 0 0 1 5.2-.8" fill="none" stroke="#c5c5c5" stroke-width="1.1"/><circle r="3.45" fill="#2e2e2e"/></g>
<g transform="translate(499.9 395.1)"><path d="M-6.3 0A6.3 6.3 0 0 0 6.3 0Z" fill="url(#hw)"/><path d="M-6 0A6 6 0 0 1 6 0Z" fill="#e3e3e3"/><path d="M-5.2-.8A5.2 5.2 0 0 1 5.2-.8" fill="none" stroke="#c5c5c5" stroke-width="1.1"/><circle r="3.45" fill="#2e2e2e"/></g>
<g transform="translate(520.2 395.1)"><path d="M-6.3 0A6.3 6.3 0 0 0 6.3 0Z" fill="url(#hw)"/><path d="M-6 0A6 6 0 0 1 6 0Z" fill="#e3e3e3"/><path d="M-5.2-.8A5.2 5.2 0 0 1 5.2-.8" fill="none" stroke="#c5c5c5" stroke-width="1.1"/><circle r="3.45" fill="#2e2e2e"/></g>
<g transform="translate(540.5 395.1)"><path d="M-6.3 0A6.3 6.3 0 0 0 6.3 0Z" fill="url(#hw)"/><path d="M-6 0A6 6 0 0 1 6 0Z" fill="#e3e3e3"/><path d="M-5.2-.8A5.2 5.2 0 0 1 5.2-.8" fill="none" stroke="#c5c5c5" stroke-width="1.1"/><circle r="3.45" fill="#2e2e2e"/></g>
<g transform="translate(560.8 395.1)"><path d="M-6.3 0A6.3 6.3 0 0 0 6.3 0Z" fill="url(#hw)"/><path d="M-6 0A6 6 0 0 1 6 0Z" fill="#e3e3e3"/><path d="M-5.2-.8A5.2 5.2 0 0 1 5.2-.8" fill="none" stroke="#c5c5c5" stroke-width="1.1"/><circle r="3.45" fill="#2e2e2e"/></g>
<g transform="translate(581.1 395.1)"><path d="M-6.3 0A6.3 6.3 0 0 0 6.3 0Z" fill="url(#hw)"/><path d="M-6 0A6 6 0 0 1 6 0Z" fill="#e3e3e3"/><path d="M-5.2-.8A5.2 5.2 0 0 1 5.2-.8" fill="none" stroke="#c5c5c5" stroke-width="1.1"/><circle r="3.45" fill="#2e2e2e"/></g>
<g transform="translate(601.3 395.1)"><path d="M-6.3 0A6.3 6.3 0 0 0 6.3 0Z" fill="url(#hw)"/><path d="M-6 0A6 6 0 0 1 6 0Z" fill="#e3e3e3"/><path d="M-5.2-.8A5.2 5.2 0 0 1 5.2-.8" fill="none" stroke="#c5c5c5" stroke-width="1.1"/><circle r="3.45" fill="#2e2e2e"/></g>
<g transform="translate(621.6 395.1)"><path d="M-6.3 0A6.3 6.3 0 0 0 6.3 0Z" fill="url(#hw)"/><path d="M-6 0A6 6 0 0 1 6 0Z" fill="#e3e3e3"/><path d="M-5.2-.8A5.2 5.2 0 0 1 5.2-.8" fill="none" stroke="#c5c5c5" stroke-width="1.1"/><circle r="3.45" fill="#2e2e2e"/></g>
<g transform="translate(641.9 395.1)"><path d="M-6.3 0A6.3 6.3 0 0 0 6.3 0Z" fill="url(#hw)"/><path d="M-6 0A6 6 0 0 1 6 0Z" fill="#e3e3e3"/><path d="M-5.2-.8A5.2 5.2 0 0 1 5.2-.8" fill="none" stroke="#c5c5c5" stroke-width="1.1"/><circle r="3.45" fill="#2e2e2e"/></g>
<g transform="translate(662.2 395.1)"><path d="M-6.3 0A6.3 6.3 0 0 0 6.3 0Z" fill="url(#hw)"/><path d="M-6 0A6 6 0 0 1 6 0Z" fill="#e3e3e3"/><path d="M-5.2-.8A5.2 5.2 0 0 1 5.2-.8" fill="none" stroke="#c5c5c5" stroke-width="1.1"/><circle r="3.45" fill="#2e2e2e"/></g>
<g transform="translate(682.5 395.1)"><path d="M-6.3 0A6.3 6.3 0 0 0 6.3 0Z" fill="url(#hw)"/><path d="M-6 0A6 6 0 0 1 6 0Z" fill="#e3e3e3"/><path d="M-5.2-.8A5.2 5.2 0 0 1 5.2-.8" fill="none" stroke="#c5c5c5" stroke-width="1.1"/><circle r="3.45" fill="#2e2e2e"/></g>
<g transform="translate(702.7 395.1)"><path d="M-6.3 0A6.3 6.3 0 0 0 6.3 0Z" fill="url(#hw)"/><path d="M-6 0A6 6 0 0 1 6 0Z" fill="#e3e3e3"/><path d="M-5.2-.8A5.2 5.2 0 0 1 5.2-.8" fill="none" stroke="#c5c5c5" stroke-width="1.1"/><circle r="3.45" fill="#2e2e2e"/></g>
<g transform="translate(723 395.1)"><path d="M-6.3 0A6.3 6.3 0 0 0 6.3 0Z" fill="url(#hw)"/><path d="M-6 0A6 6 0 0 1 6 0Z" fill="#e3e3e3"/><path d="M-5.2-.8A5.2 5.2 0 0 1 5.2-.8" fill="none" stroke="#c5c5c5" stroke-width="1.1"/><circle r="3.45" fill="#2e2e2e"/></g>
<g transform="translate(743.3 395.1)"><path d="M-6.3 0A6.3 6.3 0 0 0 6.3 0Z" fill="url(#hw)"/><path d="M-6 0A6 6 0 0 1 6 0Z" fill="#e3e3e3"/><path d="M-5.2-.8A5.2 5.2 0 0 1 5.2-.8" fill="none" stroke="#c5c5c5" stroke-width="1.1"/><circle r="3.45" fill="#2e2e2e"/></g>
<g transform="translate(763.6 395.1)"><path d="M-6.3 0A6.3 6.3 0 0 0 6.3 0Z" fill="url(#hw)"/><path d="M-6 0A6 6 0 0 1 6 0Z" fill="#e3e3e3"/><path d="M-5.2-.8A5.2 5.2 0 0 1 5.2-.8" fill="none" stroke="#c5c5c5" stroke-width="1.1"/><circle r="3.45" fill="#2e2e2e"/></g>
<g transform="translate(783.9 395.1)"><path d="M-6.3 0A6.3 6.3 0 0 0 6.3 0Z" fill="url(#hw)"/><path d="M-6 0A6 6 0 0 1 6 0Z" fill="#e3e3e3"/><path d="M-5.2-.8A5.2 5.2 0 0 1 5.2-.8" fill="none" stroke="#c5c5c5" stroke-width="1.1"/><circle r="3.45" fill="#2e2e2e"/></g>
<g transform="translate(804.1 395.1)"><path d="M-6.3 0A6.3 6.3 0 0 0 6.3 0Z" fill="url(#hw)"/><path d="M-6 0A6 6 0 0 1 6 0Z" fill="#e3e3e3"/><path d="M-5.2-.8A5.2 5.2 0 0 1 5.2-.8" fill="none" stroke="#c5c5c5" stroke-width="1.1"/><circle r="3.45" fill="#2e2e2e"/></g>
<g transform="translate(824.4 395.1)"><path d="M-6.3 0A6.3 6.3 0 0 0 6.3 0Z" fill="url(#hw)"/><path d="M-6 0A6 6 0 0 1 6 0Z" fill="#e3e3e3"/><path d="M-5.2-.8A5.2 5.2 0 0 1 5.2-.8" fill="none" stroke="#c5c5c5" stroke-width="1.1"/><circle r="3.45" fill="#2e2e2e"/></g>
<g transform="translate(844.7 395.1)"><path d="M-6.3 0A6.3 6.3 0 0 0 6.3 0Z" fill="url(#hw)"/><path d="M-6 0A6 6 0 0 1 6 0Z" fill="#e3e3e3"/><path d="M-5.2-.8A5.2 5.2 0 0 1 5.2-.8" fill="none" stroke="#c5c5c5" stroke-width="1.1"/><circle r="3.45" fill="#2e2e2e"/></g>
<g transform="translate(865 395.1)"><path d="M-6.3 0A6.3 6.3 0 0 0 6.3 0Z" fill="url(#hw)"/><path d="M-6 0A6 6 0 0 1 6 0Z" fill="#e3e3e3"/><path d="M-5.2-.8A5.2 5.2 0 0 1 5.2-.8" fill="none" stroke="#c5c5c5" stroke-width="1.1"/><circle r="3.45" fill="#2e2e2e"/></g>
<g transform="translate(885.3 395.1)"><path d="M-6.3 0A6.3 6.3 0 0 0 6.3 0Z" fill="url(#hw)"/><path d="M-6 0A6 6 0 0 1 6 0Z" fill="#e3e3e3"/><path d="M-5.2-.8A5.2 5.2 0 0 1 5.2-.8" fill="none" stroke="#c5c5c5" stroke-width="1.1"/><circle r="3.45" fill="#2e2e2e"/></g>
<g transform="translate(439.1 415.4)"><path d="M-6.3 0A6.3 6.3 0 0 0 6.3 0Z" fill="url(#hw)"/><path d="M-6 0A6 6 0 0 1 6 0Z" fill="#e3e3e3"/><path d="M-5.2-.8A5.2 5.2 0 0 1 5.2-.8" fill="none" stroke="#c5c5c5" stroke-width="1.1"/><circle r="3.45" fill="#2e2e2e"/></g>
<g transform="translate(459.4 415.4)"><path d="M-6.3 0A6.3 6.3 0 0 0 6.3 0Z" fill="url(#hw)"/><path d="M-6 0A6 6 0 0 1 6 0Z" fill="#e3e3e3"/><path d="M-5.2-.8A5.2 5.2 0 0 1 5.2-.8" fill="none" stroke="#c5c5c5" stroke-width="1.1"/><circle r="3.45" fill="#2e2e2e"/></g>
<g transform="translate(479.7 415.4)"><path d="M-6.3 0A6.3 6.3 0 0 0 6.3 0Z" fill="url(#hw)"/><path d="M-6 0A6 6 0 0 1 6 0Z" fill="#e3e3e3"/><path d="M-5.2-.8A5.2 5.2 0 0 1 5.2-.8" fill="none" stroke="#c5c5c5" stroke-width="1.1"/><circle r="3.45" fill="#2e2e2e"/></g>
<g transform="translate(499.9 415.4)"><path d="M-6.3 0A6.3 6.3 0 0 0 6.3 0Z" fill="url(#hw)"/><path d="M-6 0A6 6 0 0 1 6 0Z" fill="#e3e3e3"/><path d="M-5.2-.8A5.2 5.2 0 0 1 5.2-.8" fill="none" stroke="#c5c5c5" stroke-width="1.1"/><circle r="3.45" fill="#2e2e2e"/></g>
<g transform="translate(520.2 415.4)"><path d="M-6.3 0A6.3 6.3 0 0 0 6.3 0Z" fill="url(#hw)"/><path d="M-6 0A6 6 0 0 1 6 0Z" fill="#e3e3e3"/><path d="M-5.2-.8A5.2 5.2 0 0 1 5.2-.8" fill="none" stroke="#c5c5c5" stroke-width="1.1"/><circle r="3.45" fill="#2e2e2e"/></g>
<g transform="translate(540.5 415.4)"><path d="M-6.3 0A6.3 6.3 0 0 0 6.3 0Z" fill="url(#hw)"/><path d="M-6 0A6 6 0 0 1 6 0Z" fill="#e3e3e3"/><path d="M-5.2-.8A5.2 5.2 0 0 1 5.2-.8" fill="none" stroke="#c5c5c5" stroke-width="1.1"/><circle r="3.45" fill="#2e2e2e"/></g>
<g transform="translate(560.8 415.4)"><path d="M-6.3 0A6.3 6.3 0 0 0 6.3 0Z" fill="url(#hw)"/><path d="M-6 0A6 6 0 0 1 6 0Z" fill="#e3e3e3"/><path d="M-5.2-.8A5.2 5.2 0 0 1 5.2-.8" fill="none" stroke="#c5c5c5" stroke-width="1.1"/><circle r="3.45" fill="#2e2e2e"/></g>
<g transform="translate(581.1 415.4)"><path d="M-6.3 0A6.3 6.3 0 0 0 6.3 0Z" fill="url(#hw)"/><path d="M-6 0A6 6 0 0 1 6 0Z" fill="#e3e3e3"/><path d="M-5.2-.8A5.2 5.2 0 0 1 5.2-.8" fill="none" stroke="#c5c5c5" stroke-width="1.1"/><circle r="3.45" fill="#2e2e2e"/></g>
<g transform="translate(601.3 415.4)"><path d="M-6.3 0A6.3 6.3 0 0 0 6.3 0Z" fill="url(#hw)"/><path d="M-6 0A6 6 0 0 1 6 0Z" fill="#e3e3e3"/><path d="M-5.2-.8A5.2 5.2 0 0 1 5.2-.8" fill="none" stroke="#c5c5c5" stroke-width="1.1"/><circle r="3.45" fill="#2e2e2e"/></g>
<g transform="translate(621.6 415.4)"><path d="M-6.3 0A6.3 6.3 0 0 0 6.3 0Z" fill="url(#hw)"/><path d="M-6 0A6 6 0 0 1 6 0Z" fill="#e3e3e3"/><path d="M-5.2-.8A5.2 5.2 0 0 1 5.2-.8" fill="none" stroke="#c5c5c5" stroke-width="1.1"/><circle r="3.45" fill="#2e2e2e"/></g>
<g transform="translate(641.9 415.4)"><path d="M-6.3 0A6.3 6.3 0 0 0 6.3 0Z" fill="url(#hw)"/><path d="M-6 0A6 6 0 0 1 6 0Z" fill="#e3e3e3"/><path d="M-5.2-.8A5.2 5.2 0 0 1 5.2-.8" fill="none" stroke="#c5c5c5" stroke-width="1.1"/><circle r="3.45" fill="#2e2e2e"/></g>
<g transform="translate(662.2 415.4)"><path d="M-6.3 0A6.3 6.3 0 0 0 6.3 0Z" fill="url(#hw)"/><path d="M-6 0A6 6 0 0 1 6 0Z" fill="#e3e3e3"/><path d="M-5.2-.8A5.2 5.2 0 0 1 5.2-.8" fill="none" stroke="#c5c5c5" stroke-width="1.1"/><circle r="3.45" fill="#2e2e2e"/></g>
<g transform="translate(682.5 415.4)"><path d="M-6.3 0A6.3 6.3 0 0 0 6.3 0Z" fill="url(#hw)"/><path d="M-6 0A6 6 0 0 1 6 0Z" fill="#e3e3e3"/><path d="M-5.2-.8A5.2 5.2 0 0 1 5.2-.8" fill="none" stroke="#c5c5c5" stroke-width="1.1"/><circle r="3.45" fill="#2e2e2e"/></g>
<g transform="translate(702.7 415.4)"><path d="M-6.3 0A6.3 6.3 0 0 0 6.3 0Z" fill="url(#hw)"/><path d="M-6 0A6 6 0 0 1 6 0Z" fill="#e3e3e3"/><path d="M-5.2-.8A5.2 5.2 0 0 1 5.2-.8" fill="none" stroke="#c5c5c5" stroke-width="1.1"/><circle r="3.45" fill="#2e2e2e"/></g>
<g transform="translate(723 415.4)"><path d="M-6.3 0A6.3 6.3 0 0 0 6.3 0Z" fill="url(#hw)"/><path d="M-6 0A6 6 0 0 1 6 0Z" fill="#e3e3e3"/><path d="M-5.2-.8A5.2 5.2 0 0 1 5.2-.8" fill="none" stroke="#c5c5c5" stroke-width="1.1"/><circle r="3.45" fill="#2e2e2e"/></g>
<g transform="translate(743.3 415.4)"><path d="M-6.3 0A6.3 6.3 0 0 0 6.3 0Z" fill="url(#hw)"/><path d="M-6 0A6 6 0 0 1 6 0Z" fill="#e3e3e3"/><path d="M-5.2-.8A5.2 5.2 0 0 1 5.2-.8" fill="none" stroke="#c5c5c5" stroke-width="1.1"/><circle r="3.45" fill="#2e2e2e"/></g>
<g transform="translate(763.6 415.4)"><path d="M-6.3 0A6.3 6.3 0 0 0 6.3 0Z" fill="url(#hw)"/><path d="M-6 0A6 6 0 0 1 6 0Z" fill="#e3e3e3"/><path d="M-5.2-.8A5.2 5.2 0 0 1 5.2-.8" fill="none" stroke="#c5c5c5" stroke-width="1.1"/><circle r="3.45" fill="#2e2e2e"/></g>
<g transform="translate(783.9 415.4)"><path d="M-6.3 0A6.3 6.3 0 0 0 6.3 0Z" fill="url(#hw)"/><path d="M-6 0A6 6 0 0 1 6 0Z" fill="#e3e3e3"/><path d="M-5.2-.8A5.2 5.2 0 0 1 5.2-.8" fill="none" stroke="#c5c5c5" stroke-width="1.1"/><circle r="3.45" fill="#2e2e2e"/></g>
<g transform="translate(804.1 415.4)"><path d="M-6.3 0A6.3 6.3 0 0 0 6.3 0Z" fill="url(#hw)"/><path d="M-6 0A6 6 0 0 1 6 0Z" fill="#e3e3e3"/><path d="M-5.2-.8A5.2 5.2 0 0 1 5.2-.8" fill="none" stroke="#c5c5c5" stroke-width="1.1"/><circle r="3.45" fill="#2e2e2e"/></g>
<g transform="translate(824.4 415.4)"><path d="M-6.3 0A6.3 6.3 0 0 0 6.3 0Z" fill="url(#hw)"/><path d="M-6 0A6 6 0 0 1 6 0Z" fill="#e3e3e3"/><path d="M-5.2-.8A5.2 5.2 0 0 1 5.2-.8" fill="none" stroke="#c5c5c5" stroke-width="1.1"/><circle r="3.45" fill="#2e2e2e"/></g>
<g transform="translate(844.7 415.4)"><path d="M-6.3 0A6.3 6.3 0 0 0 6.3 0Z" fill="url(#hw)"/><path d="M-6 0A6 6 0 0 1 6 0Z" fill="#e3e3e3"/><path d="M-5.2-.8A5.2 5.2 0 0 1 5.2-.8" fill="none" stroke="#c5c5c5" stroke-width="1.1"/><circle r="3.45" fill="#2e2e2e"/></g>
<g transform="translate(865 415.4)"><path d="M-6.3 0A6.3 6.3 0 0 0 6.3 0Z" fill="url(#hw)"/><path d="M-6 0A6 6 0 0 1 6 0Z" fill="#e3e3e3"/><path d="M-5.2-.8A5.2 5.2 0 0 1 5.2-.8" fill="none" stroke="#c5c5c5" stroke-width="1.1"/><circle r="3.45" fill="#2e2e2e"/></g>
<g transform="translate(885.3 415.4)"><path d="M-6.3 0A6.3 6.3 0 0 0 6.3 0Z" fill="url(#hw)"/><path d="M-6 0A6 6 0 0 1 6 0Z" fill="#e3e3e3"/><path d="M-5.2-.8A5.2 5.2 0 0 1 5.2-.8" fill="none" stroke="#c5c5c5" stroke-width="1.1"/><circle r="3.45" fill="#2e2e2e"/></g>
<g transform="translate(439.1 476.3)"><path d="M-6.3 0A6.3 6.3 0 0 0 6.3 0Z" fill="url(#hw)"/><path d="M-6 0A6 6 0 0 1 6 0Z" fill="#e3e3e3"/><path d="M-5.2-.8A5.2 5.2 0 0 1 5.2-.8" fill="none" stroke="#c5c5c5" stroke-width="1.1"/><circle r="3.45" fill="#2e2e2e"/></g>
<g transform="translate(459.4 476.3)"><path d="M-6.3 0A6.3 6.3 0 0 0 6.3 0Z" fill="url(#hw)"/><path d="M-6 0A6 6 0 0 1 6 0Z" fill="#e3e3e3"/><path d="M-5.2-.8A5.2 5.2 0 0 1 5.2-.8" fill="none" stroke="#c5c5c5" stroke-width="1.1"/><circle r="3.45" fill="#2e2e2e"/></g>
<g transform="translate(479.7 476.3)"><path d="M-6.3 0A6.3 6.3 0 0 0 6.3 0Z" fill="url(#hw)"/><path d="M-6 0A6 6 0 0 1 6 0Z" fill="#e3e3e3"/><path d="M-5.2-.8A5.2 5.2 0 0 1 5.2-.8" fill="none" stroke="#c5c5c5" stroke-width="1.1"/><circle r="3.45" fill="#2e2e2e"/></g>
<g transform="translate(499.9 476.3)"><path d="M-6.3 0A6.3 6.3 0 0 0 6.3 0Z" fill="url(#hw)"/><path d="M-6 0A6 6 0 0 1 6 0Z" fill="#e3e3e3"/><path d="M-5.2-.8A5.2 5.2 0 0 1 5.2-.8" fill="none" stroke="#c5c5c5" stroke-width="1.1"/><circle r="3.45" fill="#2e2e2e"/></g>
<g transform="translate(520.2 476.3)"><path d="M-6.3 0A6.3 6.3 0 0 0 6.3 0Z" fill="url(#hw)"/><path d="M-6 0A6 6 0 0 1 6 0Z" fill="#e3e3e3"/><path d="M-5.2-.8A5.2 5.2 0 0 1 5.2-.8" fill="none" stroke="#c5c5c5" stroke-width="1.1"/><circle r="3.45" fill="#2e2e2e"/></g>
<g transform="translate(540.5 476.3)"><path d="M-6.3 0A6.3 6.3 0 0 0 6.3 0Z" fill="url(#hw)"/><path d="M-6 0A6 6 0 0 1 6 0Z" fill="#e3e3e3"/><path d="M-5.2-.8A5.2 5.2 0 0 1 5.2-.8" fill="none" stroke="#c5c5c5" stroke-width="1.1"/><circle r="3.45" fill="#2e2e2e"/></g>
<g transform="translate(560.8 476.3)"><path d="M-6.3 0A6.3 6.3 0 0 0 6.3 0Z" fill="url(#hw)"/><path d="M-6 0A6 6 0 0 1 6 0Z" fill="#e3e3e3"/><path d="M-5.2-.8A5.2 5.2 0 0 1 5.2-.8" fill="none" stroke="#c5c5c5" stroke-width="1.1"/><circle r="3.45" fill="#2e2e2e"/></g>
<g transform="translate(581.1 476.3)"><path d="M-6.3 0A6.3 6.3 0 0 0 6.3 0Z" fill="url(#hw)"/><path d="M-6 0A6 6 0 0 1 6 0Z" fill="#e3e3e3"/><path d="M-5.2-.8A5.2 5.2 0 0 1 5.2-.8" fill="none" stroke="#c5c5c5" stroke-width="1.1"/><circle r="3.45" fill="#2e2e2e"/></g>
<g transform="translate(601.3 476.3)"><path d="M-6.3 0A6.3 6.3 0 0 0 6.3 0Z" fill="url(#hw)"/><path d="M-6 0A6 6 0 0 1 6 0Z" fill="#e3e3e3"/><path d="M-5.2-.8A5.2 5.2 0 0 1 5.2-.8" fill="none" stroke="#c5c5c5" stroke-width="1.1"/><circle r="3.45" fill="#2e2e2e"/></g>
<g transform="translate(621.6 476.3)"><path d="M-6.3 0A6.3 6.3 0 0 0 6.3 0Z" fill="url(#hw)"/><path d="M-6 0A6 6 0 0 1 6 0Z" fill="#e3e3e3"/><path d="M-5.2-.8A5.2 5.2 0 0 1 5.2-.8" fill="none" stroke="#c5c5c5" stroke-width="1.1"/><circle r="3.45" fill="#2e2e2e"/></g>
<g transform="translate(641.9 476.3)"><path d="M-6.3 0A6.3 6.3 0 0 0 6.3 0Z" fill="url(#hw)"/><path d="M-6 0A6 6 0 0 1 6 0Z" fill="#e3e3e3"/><path d="M-5.2-.8A5.2 5.2 0 0 1 5.2-.8" fill="none" stroke="#c5c5c5" stroke-width="1.1"/><circle r="3.45" fill="#2e2e2e"/></g>
<g transform="translate(662.2 476.3)"><path d="M-6.3 0A6.3 6.3 0 0 0 6.3 0Z" fill="url(#hw)"/><path d="M-6 0A6 6 0 0 1 6 0Z" fill="#e3e3e3"/><path d="M-5.2-.8A5.2 5.2 0 0 1 5.2-.8" fill="none" stroke="#c5c5c5" stroke-width="1.1"/><circle r="3.45" fill="#2e2e2e"/></g>
<g transform="translate(682.5 476.3)"><path d="M-6.3 0A6.3 6.3 0 0 0 6.3 0Z" fill="url(#hw)"/><path d="M-6 0A6 6 0 0 1 6 0Z" fill="#e3e3e3"/><path d="M-5.2-.8A5.2 5.2 0 0 1 5.2-.8" fill="none" stroke="#c5c5c5" stroke-width="1.1"/><circle r="3.45" fill="#2e2e2e"/></g>
<g transform="translate(702.7 476.3)"><path d="M-6.3 0A6.3 6.3 0 0 0 6.3 0Z" fill="url(#hw)"/><path d="M-6 0A6 6 0 0 1 6 0Z" fill="#e3e3e3"/><path d="M-5.2-.8A5.2 5.2 0 0 1 5.2-.8" fill="none" stroke="#c5c5c5" stroke-width="1.1"/><circle r="3.45" fill="#2e2e2e"/></g>
<g transform="translate(723 476.3)"><path d="M-6.3 0A6.3 6.3 0 0 0 6.3 0Z" fill="url(#hw)"/><path d="M-6 0A6 6 0 0 1 6 0Z" fill="#e3e3e3"/><path d="M-5.2-.8A5.2 5.2 0 0 1 5.2-.8" fill="none" stroke="#c5c5c5" stroke-width="1.1"/><circle r="3.45" fill="#2e2e2e"/></g>
<g transform="translate(743.3 476.3)"><path d="M-6.3 0A6.3 6.3 0 0 0 6.3 0Z" fill="url(#hw)"/><path d="M-6 0A6 6 0 0 1 6 0Z" fill="#e3e3e3"/><path d="M-5.2-.8A5.2 5.2 0 0 1 5.2-.8" fill="none" stroke="#c5c5c5" stroke-width="1.1"/><circle r="3.45" fill="#2e2e2e"/></g>
<g transform="translate(763.6 476.3)"><path d="M-6.3 0A6.3 6.3 0 0 0 6.3 0Z" fill="url(#hw)"/><path d="M-6 0A6 6 0 0 1 6 0Z" fill="#e3e3e3"/><path d="M-5.2-.8A5.2 5.2 0 0 1 5.2-.8" fill="none" stroke="#c5c5c5" stroke-width="1.1"/><circle r="3.45" fill="#2e2e2e"/></g>
<g transform="translate(783.9 476.3)"><path d="M-6.3 0A6.3 6.3 0 0 0 6.3 0Z" fill="url(#hw)"/><path d="M-6 0A6 6 0 0 1 6 0Z" fill="#e3e3e3"/><path d="M-5.2-.8A5.2 5.2 0 0 1 5.2-.8" fill="none" stroke="#c5c5c5" stroke-width="1.1"/><circle r="3.45" fill="#2e2e2e"/></g>
<g transform="translate(804.1 476.3)"><path d="M-6.3 0A6.3 6.3 0 0 0 6.3 0Z" fill="url(#hw)"/><path d="M-6 0A6 6 0 0 1 6 0Z" fill="#e3e3e3"/><path d="M-5.2-.8A5.2 5.2 0 0 1 5.2-.8" fill="none" stroke="#c5c5c5" stroke-width="1.1"/><circle r="3.45" fill="#2e2e2e"/></g>
<g transform="translate(824.4 476.3)"><path d="M-6.3 0A6.3 6.3 0 0 0 6.3 0Z" fill="url(#hw)"/><path d="M-6 0A6 6 0 0 1 6 0Z" fill="#e3e3e3"/><path d="M-5.2-.8A5.2 5.2 0 0 1 5.2-.8" fill="none" stroke="#c5c5c5" stroke-width="1.1"/><circle r="3.45" fill="#2e2e2e"/></g>
<g transform="translate(844.7 476.3)"><path d="M-6.3 0A6.3 6.3 0 0 0 6.3 0Z" fill="url(#hw)"/><path d="M-6 0A6 6 0 0 1 6 0Z" fill="#e3e3e3"/><path d="M-5.2-.8A5.2 5.2 0 0 1 5.2-.8" fill="none" stroke="#c5c5c5" stroke-width="1.1"/><circle r="3.45" fill="#2e2e2e"/></g>
<g transform="translate(865 476.3)"><path d="M-6.3 0A6.3 6.3 0 0 0 6.3 0Z" fill="url(#hw)"/><path d="M-6 0A6 6 0 0 1 6 0Z" fill="#e3e3e3"/><path d="M-5.2-.8A5.2 5.2 0 0 1 5.2-.8" fill="none" stroke="#c5c5c5" stroke-width="1.1"/><circle r="3.45" fill="#2e2e2e"/></g>
<g transform="translate(885.3 476.3)"><path d="M-6.3 0A6.3 6.3 0 0 0 6.3 0Z" fill="url(#hw)"/><path d="M-6 0A6 6 0 0 1 6 0Z" fill="#e3e3e3"/><path d="M-5.2-.8A5.2 5.2 0 0 1 5.2-.8" fill="none" stroke="#c5c5c5" stroke-width="1.1"/><circle r="3.45" fill="#2e2e2e"/></g>
<g transform="translate(439.1 496.6)"><path d="M-6.3 0A6.3 6.3 0 0 0 6.3 0Z" fill="url(#hw)"/><path d="M-6 0A6 6 0 0 1 6 0Z" fill="#e3e3e3"/><path d="M-5.2-.8A5.2 5.2 0 0 1 5.2-.8" fill="none" stroke="#c5c5c5" stroke-width="1.1"/><circle r="3.45" fill="#2e2e2e"/></g>
<g transform="translate(459.4 496.6)"><path d="M-6.3 0A6.3 6.3 0 0 0 6.3 0Z" fill="url(#hw)"/><path d="M-6 0A6 6 0 0 1 6 0Z" fill="#e3e3e3"/><path d="M-5.2-.8A5.2 5.2 0 0 1 5.2-.8" fill="none" stroke="#c5c5c5" stroke-width="1.1"/><circle r="3.45" fill="#2e2e2e"/></g>
<g transform="translate(479.7 496.6)"><path d="M-6.3 0A6.3 6.3 0 0 0 6.3 0Z" fill="url(#hw)"/><path d="M-6 0A6 6 0 0 1 6 0Z" fill="#e3e3e3"/><path d="M-5.2-.8A5.2 5.2 0 0 1 5.2-.8" fill="none" stroke="#c5c5c5" stroke-width="1.1"/><circle r="3.45" fill="#2e2e2e"/></g>
<g transform="translate(499.9 496.6)"><path d="M-6.3 0A6.3 6.3 0 0 0 6.3 0Z" fill="url(#hw)"/><path d="M-6 0A6 6 0 0 1 6 0Z" fill="#e3e3e3"/><path d="M-5.2-.8A5.2 5.2 0 0 1 5.2-.8" fill="none" stroke="#c5c5c5" stroke-width="1.1"/><circle r="3.45" fill="#2e2e2e"/></g>
<g transform="translate(520.2 496.6)"><path d="M-6.3 0A6.3 6.3 0 0 0 6.3 0Z" fill="url(#hw)"/><path d="M-6 0A6 6 0 0 1 6 0Z" fill="#e3e3e3"/><path d="M-5.2-.8A5.2 5.2 0 0 1 5.2-.8" fill="none" stroke="#c5c5c5" stroke-width="1.1"/><circle r="3.45" fill="#2e2e2e"/></g>
<g transform="translate(540.5 496.6)"><path d="M-6.3 0A6.3 6.3 0 0 0 6.3 0Z" fill="url(#hw)"/><path d="M-6 0A6 6 0 0 1 6 0Z" fill="#e3e3e3"/><path d="M-5.2-.8A5.2 5.2 0 0 1 5.2-.8" fill="none" stroke="#c5c5c5" stroke-width="1.1"/><circle r="3.45" fill="#2e2e2e"/></g>
<g transform="translate(560.8 496.6)"><path d="M-6.3 0A6.3 6.3 0 0 0 6.3 0Z" fill="url(#hw)"/><path d="M-6 0A6 6 0 0 1 6 0Z" fill="#e3e3e3"/><path d="M-5.2-.8A5.2 5.2 0 0 1 5.2-.8" fill="none" stroke="#c5c5c5" stroke-width="1.1"/><circle r="3.45" fill="#2e2e2e"/></g>
<g transform="translate(581.1 496.6)"><path d="M-6.3 0A6.3 6.3 0 0 0 6.3 0Z" fill="url(#hw)"/><path d="M-6 0A6 6 0 0 1 6 0Z" fill="#e3e3e3"/><path d="M-5.2-.8A5.2 5.2 0 0 1 5.2-.8" fill="none" stroke="#c5c5c5" stroke-width="1.1"/><circle r="3.45" fill="#2e2e2e"/></g>
<g transform="translate(601.3 496.6)"><path d="M-6.3 0A6.3 6.3 0 0 0 6.3 0Z" fill="url(#hw)"/><path d="M-6 0A6 6 0 0 1 6 0Z" fill="#e3e3e3"/><path d="M-5.2-.8A5.2 5.2 0 0 1 5.2-.8" fill="none" stroke="#c5c5c5" stroke-width="1.1"/><circle r="3.45" fill="#2e2e2e"/></g>
<g transform="translate(621.6 496.6)"><path d="M-6.3 0A6.3 6.3 0 0 0 6.3 0Z" fill="url(#hw)"/><path d="M-6 0A6 6 0 0 1 6 0Z" fill="#e3e3e3"/><path d="M-5.2-.8A5.2 5.2 0 0 1 5.2-.8" fill="none" stroke="#c5c5c5" stroke-width="1.1"/><circle r="3.45" fill="#2e2e2e"/></g>
<g transform="translate(641.9 496.6)"><path d="M-6.3 0A6.3 6.3 0 0 0 6.3 0Z" fill="url(#hw)"/><path d="M-6 0A6 6 0 0 1 6 0Z" fill="#e3e3e3"/><path d="M-5.2-.8A5.2 5.2 0 0 1 5.2-.8" fill="none" stroke="#c5c5c5" stroke-width="1.1"/><circle r="3.45" fill="#2e2e2e"/></g>
<g transform="translate(662.2 496.6)"><path d="M-6.3 0A6.3 6.3 0 0 0 6.3 0Z" fill="url(#hw)"/><path d="M-6 0A6 6 0 0 1 6 0Z" fill="#e3e3e3"/><path d="M-5.2-.8A5.2 5.2 0 0 1 5.2-.8" fill="none" stroke="#c5c5c5" stroke-width="1.1"/><circle r="3.45" fill="#2e2e2e"/></g>
<g transform="translate(682.5 496.6)"><path d="M-6.3 0A6.3 6.3 0 0 0 6.3 0Z" fill="url(#hw)"/><path d="M-6 0A6 6 0 0 1 6 0Z" fill="#e3e3e3"/><path d="M-5.2-.8A5.2 5.2 0 0 1 5.2-.8" fill="none" stroke="#c5c5c5" stroke-width="1.1"/><circle r="3.45" fill="#2e2e2e"/></g>
<g transform="translate(702.7 496.6)"><path d="M-6.3 0A6.3 6.3 0 0 0 6.3 0Z" fill="url(#hw)"/><path d="M-6 0A6 6 0 0 1 6 0Z" fill="#e3e3e3"/><path d="M-5.2-.8A5.2 5.2 0 0 1 5.2-.8" fill="none" stroke="#c5c5c5" stroke-width="1.1"/><circle r="3.45" fill="#2e2e2e"/></g>
<g transform="translate(723 496.6)"><path d="M-6.3 0A6.3 6.3 0 0 0 6.3 0Z" fill="url(#hw)"/><path d="M-6 0A6 6 0 0 1 6 0Z" fill="#e3e3e3"/><path d="M-5.2-.8A5.2 5.2 0 0 1 5.2-.8" fill="none" stroke="#c5c5c5" stroke-width="1.1"/><circle r="3.45" fill="#2e2e2e"/></g>
<g transform="translate(743.3 496.6)"><path d="M-6.3 0A6.3 6.3 0 0 0 6.3 0Z" fill="url(#hw)"/><path d="M-6 0A6 6 0 0 1 6 0Z" fill="#e3e3e3"/><path d="M-5.2-.8A5.2 5.2 0 0 1 5.2-.8" fill="none" stroke="#c5c5c5" stroke-width="1.1"/><circle r="3.45" fill="#2e2e2e"/></g>
<g transform="translate(763.6 496.6)"><path d="M-6.3 0A6.3 6.3 0 0 0 6.3 0Z" fill="url(#hw)"/><path d="M-6 0A6 6 0 0 1 6 0Z" fill="#e3e3e3"/><path d="M-5.2-.8A5.2 5.2 0 0 1 5.2-.8" fill="none" stroke="#c5c5c5" stroke-width="1.1"/><circle r="3.45" fill="#2e2e2e"/></g>
<g transform="translate(783.9 496.6)"><path d="M-6.3 0A6.3 6.3 0 0 0 6.3 0Z" fill="url(#hw)"/><path d="M-6 0A6 6 0 0 1 6 0Z" fill="#e3e3e3"/><path d="M-5.2-.8A5.2 5.2 0 0 1 5.2-.8" fill="none" stroke="#c5c5c5" stroke-width="1.1"/><circle r="3.45" fill="#2e2e2e"/></g>
<g transform="translate(804.1 496.6)"><path d="M-6.3 0A6.3 6.3 0 0 0 6.3 0Z" fill="url(#hw)"/><path d="M-6 0A6 6 0 0 1 6 0Z" fill="#e3e3e3"/><path d="M-5.2-.8A5.2 5.2 0 0 1 5.2-.8" fill="none" stroke="#c5c5c5" stroke-width="1.1"/><circle r="3.45" fill="#2e2e2e"/></g>
<g transform="translate(824.4 496.6)"><path d="M-6.3 0A6.3 6.3 0 0 0 6.3 0Z" fill="url(#hw)"/><path d="M-6 0A6 6 0 0 1 6 0Z" fill="#e3e3e3"/><path d="M-5.2-.8A5.2 5.2 0 0 1 5.2-.8" fill="none" stroke="#c5c5c5" stroke-width="1.1"/><circle r="3.45" fill="#2e2e2e"/></g>
<g transform="translate(844.7 496.6)"><path d="M-6.3 0A6.3 6.3 0 0 0 6.3 0Z" fill="url(#hw)"/><path d="M-6 0A6 6 0 0 1 6 0Z" fill="#e3e3e3"/><path d="M-5.2-.8A5.2 5.2 0 0 1 5.2-.8" fill="none" stroke="#c5c5c5" stroke-width="1.1"/><circle r="3.45" fill="#2e2e2e"/></g>
<g transform="translate(865 496.6)"><path d="M-6.3 0A6.3 6.3 0 0 0 6.3 0Z" fill="url(#hw)"/><path d="M-6 0A6 6 0 0 1 6 0Z" fill="#e3e3e3"/><path d="M-5.2-.8A5.2 5.2 0 0 1 5.2-.8" fill="none" stroke="#c5c5c5" stroke-width="1.1"/><circle r="3.45" fill="#2e2e2e"/></g>
<g transform="translate(885.3 496.6)"><path d="M-6.3 0A6.3 6.3 0 0 0 6.3 0Z" fill="url(#hw)"/><path d="M-6 0A6 6 0 0 1 6 0Z" fill="#e3e3e3"/><path d="M-5.2-.8A5.2 5.2 0 0 1 5.2-.8" fill="none" stroke="#c5c5c5" stroke-width="1.1"/><circle r="3.45" fill="#2e2e2e"/></g>
<g transform="translate(439.1 516.9)"><path d="M-6.3 0A6.3 6.3 0 0 0 6.3 0Z" fill="url(#hw)"/><path d="M-6 0A6 6 0 0 1 6 0Z" fill="#e3e3e3"/><path d="M-5.2-.8A5.2 5.2 0 0 1 5.2-.8" fill="none" stroke="#c5c5c5" stroke-width="1.1"/><circle r="3.45" fill="#2e2e2e"/></g>
<g transform="translate(459.4 516.9)"><path d="M-6.3 0A6.3 6.3 0 0 0 6.3 0Z" fill="url(#hw)"/><path d="M-6 0A6 6 0 0 1 6 0Z" fill="#e3e3e3"/><path d="M-5.2-.8A5.2 5.2 0 0 1 5.2-.8" fill="none" stroke="#c5c5c5" stroke-width="1.1"/><circle r="3.45" fill="#2e2e2e"/></g>
<g transform="translate(479.7 516.9)"><path d="M-6.3 0A6.3 6.3 0 0 0 6.3 0Z" fill="url(#hw)"/><path d="M-6 0A6 6 0 0 1 6 0Z" fill="#e3e3e3"/><path d="M-5.2-.8A5.2 5.2 0 0 1 5.2-.8" fill="none" stroke="#c5c5c5" stroke-width="1.1"/><circle r="3.45" fill="#2e2e2e"/></g>
<g transform="translate(499.9 516.9)"><path d="M-6.3 0A6.3 6.3 0 0 0 6.3 0Z" fill="url(#hw)"/><path d="M-6 0A6 6 0 0 1 6 0Z" fill="#e3e3e3"/><path d="M-5.2-.8A5.2 5.2 0 0 1 5.2-.8" fill="none" stroke="#c5c5c5" stroke-width="1.1"/><circle r="3.45" fill="#2e2e2e"/></g>
<g transform="translate(520.2 516.9)"><path d="M-6.3 0A6.3 6.3 0 0 0 6.3 0Z" fill="url(#hw)"/><path d="M-6 0A6 6 0 0 1 6 0Z" fill="#e3e3e3"/><path d="M-5.2-.8A5.2 5.2 0 0 1 5.2-.8" fill="none" stroke="#c5c5c5" stroke-width="1.1"/><circle r="3.45" fill="#2e2e2e"/></g>
<g transform="translate(540.5 516.9)"><path d="M-6.3 0A6.3 6.3 0 0 0 6.3 0Z" fill="url(#hw)"/><path d="M-6 0A6 6 0 0 1 6 0Z" fill="#e3e3e3"/><path d="M-5.2-.8A5.2 5.2 0 0 1 5.2-.8" fill="none" stroke="#c5c5c5" stroke-width="1.1"/><circle r="3.45" fill="#2e2e2e"/></g>
<g transform="translate(560.8 516.9)"><path d="M-6.3 0A6.3 6.3 0 0 0 6.3 0Z" fill="url(#hw)"/><path d="M-6 0A6 6 0 0 1 6 0Z" fill="#e3e3e3"/><path d="M-5.2-.8A5.2 5.2 0 0 1 5.2-.8" fill="none" stroke="#c5c5c5" stroke-width="1.1"/><circle r="3.45" fill="#2e2e2e"/></g>
<g transform="translate(581.1 516.9)"><path d="M-6.3 0A6.3 6.3 0 0 0 6.3 0Z" fill="url(#hw)"/><path d="M-6 0A6 6 0 0 1 6 0Z" fill="#e3e3e3"/><path d="M-5.2-.8A5.2 5.2 0 0 1 5.2-.8" fill="none" stroke="#c5c5c5" stroke-width="1.1"/><circle r="3.45" fill="#2e2e2e"/></g>
<g transform="translate(601.3 516.9)"><path d="M-6.3 0A6.3 6.3 0 0 0 6.3 0Z" fill="url(#hw)"/><path d="M-6 0A6 6 0 0 1 6 0Z" fill="#e3e3e3"/><path d="M-5.2-.8A5.2 5.2 0 0 1 5.2-.8" fill="none" stroke="#c5c5c5" stroke-width="1.1"/><circle r="3.45" fill="#2e2e2e"/></g>
<g transform="translate(621.6 516.9)"><path d="M-6.3 0A6.3 6.3 0 0 0 6.3 0Z" fill="url(#hw)"/><path d="M-6 0A6 6 0 0 1 6 0Z" fill="#e3e3e3"/><path d="M-5.2-.8A5.2 5.2 0 0 1 5.2-.8" fill="none" stroke="#c5c5c5" stroke-width="1.1"/><circle r="3.45" fill="#2e2e2e"/></g>
<g transform="translate(641.9 516.9)"><path d="M-6.3 0A6.3 6.3 0 0 0 6.3 0Z" fill="url(#hw)"/><path d="M-6 0A6 6 0 0 1 6 0Z" fill="#e3e3e3"/><path d="M-5.2-.8A5.2 5.2 0 0 1 5.2-.8" fill="none" stroke="#c5c5c5" stroke-width="1.1"/><circle r="3.45" fill="#2e2e2e"/></g>
<g transform="translate(662.2 516.9)"><path d="M-6.3 0A6.3 6.3 0 0 0 6.3 0Z" fill="url(#hw)"/><path d="M-6 0A6 6 0 0 1 6 0Z" fill="#e3e3e3"/><path d="M-5.2-.8A5.2 5.2 0 0 1 5.2-.8" fill="none" stroke="#c5c5c5" stroke-width="1.1"/><circle r="3.45" fill="#2e2e2e"/></g>
<g transform="translate(682.5 516.9)"><path d="M-6.3 0A6.3 6.3 0 0 0 6.3 0Z" fill="url(#hw)"/><path d="M-6 0A6 6 0 0 1 6 0Z" fill="#e3e3e3"/><path d="M-5.2-.8A5.2 5.2 0 0 1 5.2-.8" fill="none" stroke="#c5c5c5" stroke-width="1.1"/><circle r="3.45" fill="#2e2e2e"/></g>
<g transform="translate(702.7 516.9)"><path d="M-6.3 0A6.3 6.3 0 0 0 6.3 0Z" fill="url(#hw)"/><path d="M-6 0A6 6 0 0 1 6 0Z" fill="#e3e3e3"/><path d="M-5.2-.8A5.2 5.2 0 0 1 5.2-.8" fill="none" stroke="#c5c5c5" stroke-width="1.1"/><circle r="3.45" fill="#2e2e2e"/></g>
<g transform="translate(723 516.9)"><path d="M-6.3 0A6.3 6.3 0 0 0 6.3 0Z" fill="url(#hw)"/><path d="M-6 0A6 6 0 0 1 6 0Z" fill="#e3e3e3"/><path d="M-5.2-.8A5.2 5.2 0 0 1 5.2-.8" fill="none" stroke="#c5c5c5" stroke-width="1.1"/><circle r="3.45" fill="#2e2e2e"/></g>
<g transform="translate(743.3 516.9)"><path d="M-6.3 0A6.3 6.3 0 0 0 6.3 0Z" fill="url(#hw)"/><path d="M-6 0A6 6 0 0 1 6 0Z" fill="#e3e3e3"/><path d="M-5.2-.8A5.2 5.2 0 0 1 5.2-.8" fill="none" stroke="#c5c5c5" stroke-width="1.1"/><circle r="3.45" fill="#2e2e2e"/></g>
<g transform="translate(763.6 516.9)"><path d="M-6.3 0A6.3 6.3 0 0 0 6.3 0Z" fill="url(#hw)"/><path d="M-6 0A6 6 0 0 1 6 0Z" fill="#e3e3e3"/><path d="M-5.2-.8A5.2 5.2 0 0 1 5.2-.8" fill="none" stroke="#c5c5c5" stroke-width="1.1"/><circle r="3.45" fill="#2e2e2e"/></g>
<g transform="translate(783.9 516.9)"><path d="M-6.3 0A6.3 6.3 0 0 0 6.3 0Z" fill="url(#hw)"/><path d="M-6 0A6 6 0 0 1 6 0Z" fill="#e3e3e3"/><path d="M-5.2-.8A5.2 5.2 0 0 1 5.2-.8" fill="none" stroke="#c5c5c5" stroke-width="1.1"/><circle r="3.45" fill="#2e2e2e"/></g>
<g transform="translate(804.1 516.9)"><path d="M-6.3 0A6.3 6.3 0 0 0 6.3 0Z" fill="url(#hw)"/><path d="M-6 0A6 6 0 0 1 6 0Z" fill="#e3e3e3"/><path d="M-5.2-.8A5.2 5.2 0 0 1 5.2-.8" fill="none" stroke="#c5c5c5" stroke-width="1.1"/><circle r="3.45" fill="#2e2e2e"/></g>
<g transform="translate(824.4 516.9)"><path d="M-6.3 0A6.3 6.3 0 0 0 6.3 0Z" fill="url(#hw)"/><path d="M-6 0A6 6 0 0 1 6 0Z" fill="#e3e3e3"/><path d="M-5.2-.8A5.2 5.2 0 0 1 5.2-.8" fill="none" stroke="#c5c5c5" stroke-width="1.1"/><circle r="3.45" fill="#2e2e2e"/></g>
<g transform="translate(844.7 516.9)"><path d="M-6.3 0A6.3 6.3 0 0 0 6.3 0Z" fill="url(#hw)"/><path d="M-6 0A6 6 0 0 1 6 0Z" fill="#e3e3e3"/><path d="M-5.2-.8A5.2 5.2 0 0 1 5.2-.8" fill="none" stroke="#c5c5c5" stroke-width="1.1"/><circle r="3.45" fill="#2e2e2e"/></g>
<g transform="translate(865 516.9)"><path d="M-6.3 0A6.3 6.3 0 0 0 6.3 0Z" fill="url(#hw)"/><path d="M-6 0A6 6 0 0 1 6 0Z" fill="#e3e3e3"/><path d="M-5.2-.8A5.2 5.2 0 0 1 5.2-.8" fill="none" stroke="#c5c5c5" stroke-width="1.1"/><circle r="3.45" fill="#2e2e2e"/></g>
<g transform="translate(885.3 516.9)"><path d="M-6.3 0A6.3 6.3 0 0 0 6.3 0Z" fill="url(#hw)"/><path d="M-6 0A6 6 0 0 1 6 0Z" fill="#e3e3e3"/><path d="M-5.2-.8A5.2 5.2 0 0 1 5.2-.8" fill="none" stroke="#c5c5c5" stroke-width="1.1"/><circle r="3.45" fill="#2e2e2e"/></g>
<g transform="translate(439.1 537.2)"><path d="M-6.3 0A6.3 6.3 0 0 0 6.3 0Z" fill="url(#hw)"/><path d="M-6 0A6 6 0 0 1 6 0Z" fill="#e3e3e3"/><path d="M-5.2-.8A5.2 5.2 0 0 1 5.2-.8" fill="none" stroke="#c5c5c5" stroke-width="1.1"/><circle r="3.45" fill="#2e2e2e"/></g>
<g transform="translate(459.4 537.2)"><path d="M-6.3 0A6.3 6.3 0 0 0 6.3 0Z" fill="url(#hw)"/><path d="M-6 0A6 6 0 0 1 6 0Z" fill="#e3e3e3"/><path d="M-5.2-.8A5.2 5.2 0 0 1 5.2-.8" fill="none" stroke="#c5c5c5" stroke-width="1.1"/><circle r="3.45" fill="#2e2e2e"/></g>
<g transform="translate(479.7 537.2)"><path d="M-6.3 0A6.3 6.3 0 0 0 6.3 0Z" fill="url(#hw)"/><path d="M-6 0A6 6 0 0 1 6 0Z" fill="#e3e3e3"/><path d="M-5.2-.8A5.2 5.2 0 0 1 5.2-.8" fill="none" stroke="#c5c5c5" stroke-width="1.1"/><circle r="3.45" fill="#2e2e2e"/></g>
<g transform="translate(499.9 537.2)"><path d="M-6.3 0A6.3 6.3 0 0 0 6.3 0Z" fill="url(#hw)"/><path d="M-6 0A6 6 0 0 1 6 0Z" fill="#e3e3e3"/><path d="M-5.2-.8A5.2 5.2 0 0 1 5.2-.8" fill="none" stroke="#c5c5c5" stroke-width="1.1"/><circle r="3.45" fill="#2e2e2e"/></g>
<g transform="translate(520.2 537.2)"><path d="M-6.3 0A6.3 6.3 0 0 0 6.3 0Z" fill="url(#hw)"/><path d="M-6 0A6 6 0 0 1 6 0Z" fill="#e3e3e3"/><path d="M-5.2-.8A5.2 5.2 0 0 1 5.2-.8" fill="none" stroke="#c5c5c5" stroke-width="1.1"/><circle r="3.45" fill="#2e2e2e"/></g>
<g transform="translate(540.5 537.2)"><path d="M-6.3 0A6.3 6.3 0 0 0 6.3 0Z" fill="url(#hw)"/><path d="M-6 0A6 6 0 0 1 6 0Z" fill="#e3e3e3"/><path d="M-5.2-.8A5.2 5.2 0 0 1 5.2-.8" fill="none" stroke="#c5c5c5" stroke-width="1.1"/><circle r="3.45" fill="#2e2e2e"/></g>
<g transform="translate(560.8 537.2)"><path d="M-6.3 0A6.3 6.3 0 0 0 6.3 0Z" fill="url(#hw)"/><path d="M-6 0A6 6 0 0 1 6 0Z" fill="#e3e3e3"/><path d="M-5.2-.8A5.2 5.2 0 0 1 5.2-.8" fill="none" stroke="#c5c5c5" stroke-width="1.1"/><circle r="3.45" fill="#2e2e2e"/></g>
<g transform="translate(581.1 537.2)"><path d="M-6.3 0A6.3 6.3 0 0 0 6.3 0Z" fill="url(#hw)"/><path d="M-6 0A6 6 0 0 1 6 0Z" fill="#e3e3e3"/><path d="M-5.2-.8A5.2 5.2 0 0 1 5.2-.8" fill="none" stroke="#c5c5c5" stroke-width="1.1"/><circle r="3.45" fill="#2e2e2e"/></g>
<g transform="translate(601.3 537.2)"><path d="M-6.3 0A6.3 6.3 0 0 0 6.3 0Z" fill="url(#hw)"/><path d="M-6 0A6 6 0 0 1 6 0Z" fill="#e3e3e3"/><path d="M-5.2-.8A5.2 5.2 0 0 1 5.2-.8" fill="none" stroke="#c5c5c5" stroke-width="1.1"/><circle r="3.45" fill="#2e2e2e"/></g>
<g transform="translate(621.6 537.2)"><path d="M-6.3 0A6.3 6.3 0 0 0 6.3 0Z" fill="url(#hw)"/><path d="M-6 0A6 6 0 0 1 6 0Z" fill="#e3e3e3"/><path d="M-5.2-.8A5.2 5.2 0 0 1 5.2-.8" fill="none" stroke="#c5c5c5" stroke-width="1.1"/><circle r="3.45" fill="#2e2e2e"/></g>
<g transform="translate(641.9 537.2)"><path d="M-6.3 0A6.3 6.3 0 0 0 6.3 0Z" fill="url(#hw)"/><path d="M-6 0A6 6 0 0 1 6 0Z" fill="#e3e3e3"/><path d="M-5.2-.8A5.2 5.2 0 0 1 5.2-.8" fill="none" stroke="#c5c5c5" stroke-width="1.1"/><circle r="3.45" fill="#2e2e2e"/></g>
<g transform="translate(662.2 537.2)"><path d="M-6.3 0A6.3 6.3 0 0 0 6.3 0Z" fill="url(#hw)"/><path d="M-6 0A6 6 0 0 1 6 0Z" fill="#e3e3e3"/><path d="M-5.2-.8A5.2 5.2 0 0 1 5.2-.8" fill="none" stroke="#c5c5c5" stroke-width="1.1"/><circle r="3.45" fill="#2e2e2e"/></g>
<g transform="translate(682.5 537.2)"><path d="M-6.3 0A6.3 6.3 0 0 0 6.3 0Z" fill="url(#hw)"/><path d="M-6 0A6 6 0 0 1 6 0Z" fill="#e3e3e3"/><path d="M-5.2-.8A5.2 5.2 0 0 1 5.2-.8" fill="none" stroke="#c5c5c5" stroke-width="1.1"/><circle r="3.45" fill="#2e2e2e"/></g>
<g transform="translate(702.7 537.2)"><path d="M-6.3 0A6.3 6.3 0 0 0 6.3 0Z" fill="url(#hw)"/><path d="M-6 0A6 6 0 0 1 6 0Z" fill="#e3e3e3"/><path d="M-5.2-.8A5.2 5.2 0 0 1 5.2-.8" fill="none" stroke="#c5c5c5" stroke-width="1.1"/><circle r="3.45" fill="#2e2e2e"/></g>
<g transform="translate(723 537.2)"><path d="M-6.3 0A6.3 6.3 0 0 0 6.3 0Z" fill="url(#hw)"/><path d="M-6 0A6 6 0 0 1 6 0Z" fill="#e3e3e3"/><path d="M-5.2-.8A5.2 5.2 0 0 1 5.2-.8" fill="none" stroke="#c5c5c5" stroke-width="1.1"/><circle r="3.45" fill="#2e2e2e"/></g>
<g transform="translate(743.3 537.2)"><path d="M-6.3 0A6.3 6.3 0 0 0 6.3 0Z" fill="url(#hw)"/><path d="M-6 0A6 6 0 0 1 6 0Z" fill="#e3e3e3"/><path d="M-5.2-.8A5.2 5.2 0 0 1 5.2-.8" fill="none" stroke="#c5c5c5" stroke-width="1.1"/><circle r="3.45" fill="#2e2e2e"/></g>
<g transform="translate(763.6 537.2)"><path d="M-6.3 0A6.3 6.3 0 0 0 6.3 0Z" fill="url(#hw)"/><path d="M-6 0A6 6 0 0 1 6 0Z" fill="#e3e3e3"/><path d="M-5.2-.8A5.2 5.2 0 0 1 5.2-.8" fill="none" stroke="#c5c5c5" stroke-width="1.1"/><circle r="3.45" fill="#2e2e2e"/></g>
<g transform="translate(783.9 537.2)"><path d="M-6.3 0A6.3 6.3 0 0 0 6.3 0Z" fill="url(#hw)"/><path d="M-6 0A6 6 0 0 1 6 0Z" fill="#e3e3e3"/><path d="M-5.2-.8A5.2 5.2 0 0 1 5.2-.8" fill="none" stroke="#c5c5c5" stroke-width="1.1"/><circle r="3.45" fill="#2e2e2e"/></g>
<g transform="translate(804.1 537.2)"><path d="M-6.3 0A6.3 6.3 0 0 0 6.3 0Z" fill="url(#hw)"/><path d="M-6 0A6 6 0 0 1 6 0Z" fill="#e3e3e3"/><path d="M-5.2-.8A5.2 5.2 0 0 1 5.2-.8" fill="none" stroke="#c5c5c5" stroke-width="1.1"/><circle r="3.45" fill="#2e2e2e"/></g>
<g transform="translate(824.4 537.2)"><path d="M-6.3 0A6.3 6.3 0 0 0 6.3 0Z" fill="url(#hw)"/><path d="M-6 0A6 6 0 0 1 6 0Z" fill="#e3e3e3"/><path d="M-5.2-.8A5.2 5.2 0 0 1 5.2-.8" fill="none" stroke="#c5c5c5" stroke-width="1.1"/><circle r="3.45" fill="#2e2e2e"/></g>
<g transform="translate(844.7 537.2)"><path d="M-6.3 0A6.3 6.3 0 0 0 6.3 0Z" fill="url(#hw)"/><path d="M-6 0A6 6 0 0 1 6 0Z" fill="#e3e3e3"/><path d="M-5.2-.8A5.2 5.2 0 0 1 5.2-.8" fill="none" stroke="#c5c5c5" stroke-width="1.1"/><circle r="3.45" fill="#2e2e2e"/></g>
<g transform="translate(865 537.2)"><path d="M-6.3 0A6.3 6.3 0 0 0 6.3 0Z" fill="url(#hw)"/><path d="M-6 0A6 6 0 0 1 6 0Z" fill="#e3e3e3"/><path d="M-5.2-.8A5.2 5.2 0 0 1 5.2-.8" fill="none" stroke="#c5c5c5" stroke-width="1.1"/><circle r="3.45" fill="#2e2e2e"/></g>
<g transform="translate(885.3 537.2)"><path d="M-6.3 0A6.3 6.3 0 0 0 6.3 0Z" fill="url(#hw)"/><path d="M-6 0A6 6 0 0 1 6 0Z" fill="#e3e3e3"/><path d="M-5.2-.8A5.2 5.2 0 0 1 5.2-.8" fill="none" stroke="#c5c5c5" stroke-width="1.1"/><circle r="3.45" fill="#2e2e2e"/></g>
<g transform="translate(439.1 557.5)"><path d="M-6.3 0A6.3 6.3 0 0 0 6.3 0Z" fill="url(#hw)"/><path d="M-6 0A6 6 0 0 1 6 0Z" fill="#e3e3e3"/><path d="M-5.2-.8A5.2 5.2 0 0 1 5.2-.8" fill="none" stroke="#c5c5c5" stroke-width="1.1"/><circle r="3.45" fill="#2e2e2e"/></g>
<g transform="translate(459.4 557.5)"><path d="M-6.3 0A6.3 6.3 0 0 0 6.3 0Z" fill="url(#hw)"/><path d="M-6 0A6 6 0 0 1 6 0Z" fill="#e3e3e3"/><path d="M-5.2-.8A5.2 5.2 0 0 1 5.2-.8" fill="none" stroke="#c5c5c5" stroke-width="1.1"/><circle r="3.45" fill="#2e2e2e"/></g>
<g transform="translate(479.7 557.5)"><path d="M-6.3 0A6.3 6.3 0 0 0 6.3 0Z" fill="url(#hw)"/><path d="M-6 0A6 6 0 0 1 6 0Z" fill="#e3e3e3"/><path d="M-5.2-.8A5.2 5.2 0 0 1 5.2-.8" fill="none" stroke="#c5c5c5" stroke-width="1.1"/><circle r="3.45" fill="#2e2e2e"/></g>
<g transform="translate(499.9 557.5)"><path d="M-6.3 0A6.3 6.3 0 0 0 6.3 0Z" fill="url(#hw)"/><path d="M-6 0A6 6 0 0 1 6 0Z" fill="#e3e3e3"/><path d="M-5.2-.8A5.2 5.2 0 0 1 5.2-.8" fill="none" stroke="#c5c5c5" stroke-width="1.1"/><circle r="3.45" fill="#2e2e2e"/></g>
<g transform="translate(520.2 557.5)"><path d="M-6.3 0A6.3 6.3 0 0 0 6.3 0Z" fill="url(#hw)"/><path d="M-6 0A6 6 0 0 1 6 0Z" fill="#e3e3e3"/><path d="M-5.2-.8A5.2 5.2 0 0 1 5.2-.8" fill="none" stroke="#c5c5c5" stroke-width="1.1"/><circle r="3.45" fill="#2e2e2e"/></g>
<g transform="translate(540.5 557.5)"><path d="M-6.3 0A6.3 6.3 0 0 0 6.3 0Z" fill="url(#hw)"/><path d="M-6 0A6 6 0 0 1 6 0Z" fill="#e3e3e3"/><path d="M-5.2-.8A5.2 5.2 0 0 1 5.2-.8" fill="none" stroke="#c5c5c5" stroke-width="1.1"/><circle r="3.45" fill="#2e2e2e"/></g>
<g transform="translate(560.8 557.5)"><path d="M-6.3 0A6.3 6.3 0 0 0 6.3 0Z" fill="url(#hw)"/><path d="M-6 0A6 6 0 0 1 6 0Z" fill="#e3e3e3"/><path d="M-5.2-.8A5.2 5.2 0 0 1 5.2-.8" fill="none" stroke="#c5c5c5" stroke-width="1.1"/><circle r="3.45" fill="#2e2e2e"/></g>
<g transform="translate(581.1 557.5)"><path d="M-6.3 0A6.3 6.3 0 0 0 6.3 0Z" fill="url(#hw)"/><path d="M-6 0A6 6 0 0 1 6 0Z" fill="#e3e3e3"/><path d="M-5.2-.8A5.2 5.2 0 0 1 5.2-.8" fill="none" stroke="#c5c5c5" stroke-width="1.1"/><circle r="3.45" fill="#2e2e2e"/></g>
<g transform="translate(601.3 557.5)"><path d="M-6.3 0A6.3 6.3 0 0 0 6.3 0Z" fill="url(#hw)"/><path d="M-6 0A6 6 0 0 1 6 0Z" fill="#e3e3e3"/><path d="M-5.2-.8A5.2 5.2 0 0 1 5.2-.8" fill="none" stroke="#c5c5c5" stroke-width="1.1"/><circle r="3.45" fill="#2e2e2e"/></g>
<g transform="translate(621.6 557.5)"><path d="M-6.3 0A6.3 6.3 0 0 0 6.3 0Z" fill="url(#hw)"/><path d="M-6 0A6 6 0 0 1 6 0Z" fill="#e3e3e3"/><path d="M-5.2-.8A5.2 5.2 0 0 1 5.2-.8" fill="none" stroke="#c5c5c5" stroke-width="1.1"/><circle r="3.45" fill="#2e2e2e"/></g>
<g transform="translate(641.9 557.5)"><path d="M-6.3 0A6.3 6.3 0 0 0 6.3 0Z" fill="url(#hw)"/><path d="M-6 0A6 6 0 0 1 6 0Z" fill="#e3e3e3"/><path d="M-5.2-.8A5.2 5.2 0 0 1 5.2-.8" fill="none" stroke="#c5c5c5" stroke-width="1.1"/><circle r="3.45" fill="#2e2e2e"/></g>
<g transform="translate(662.2 557.5)"><path d="M-6.3 0A6.3 6.3 0 0 0 6.3 0Z" fill="url(#hw)"/><path d="M-6 0A6 6 0 0 1 6 0Z" fill="#e3e3e3"/><path d="M-5.2-.8A5.2 5.2 0 0 1 5.2-.8" fill="none" stroke="#c5c5c5" stroke-width="1.1"/><circle r="3.45" fill="#2e2e2e"/></g>
<g transform="translate(682.5 557.5)"><path d="M-6.3 0A6.3 6.3 0 0 0 6.3 0Z" fill="url(#hw)"/><path d="M-6 0A6 6 0 0 1 6 0Z" fill="#e3e3e3"/><path d="M-5.2-.8A5.2 5.2 0 0 1 5.2-.8" fill="none" stroke="#c5c5c5" stroke-width="1.1"/><circle r="3.45" fill="#2e2e2e"/></g>
<g transform="translate(702.7 557.5)"><path d="M-6.3 0A6.3 6.3 0 0 0 6.3 0Z" fill="url(#hw)"/><path d="M-6 0A6 6 0 0 1 6 0Z" fill="#e3e3e3"/><path d="M-5.2-.8A5.2 5.2 0 0 1 5.2-.8" fill="none" stroke="#c5c5c5" stroke-width="1.1"/><circle r="3.45" fill="#2e2e2e"/></g>
<g transform="translate(723 557.5)"><path d="M-6.3 0A6.3 6.3 0 0 0 6.3 0Z" fill="url(#hw)"/><path d="M-6 0A6 6 0 0 1 6 0Z" fill="#e3e3e3"/><path d="M-5.2-.8A5.2 5.2 0 0 1 5.2-.8" fill="none" stroke="#c5c5c5" stroke-width="1.1"/><circle r="3.45" fill="#2e2e2e"/></g>
<g transform="translate(743.3 557.5)"><path d="M-6.3 0A6.3 6.3 0 0 0 6.3 0Z" fill="url(#hw)"/><path d="M-6 0A6 6 0 0 1 6 0Z" fill="#e3e3e3"/><path d="M-5.2-.8A5.2 5.2 0 0 1 5.2-.8" fill="none" stroke="#c5c5c5" stroke-width="1.1"/><circle r="3.45" fill="#2e2e2e"/></g>
<g transform="translate(763.6 557.5)"><path d="M-6.3 0A6.3 6.3 0 0 0 6.3 0Z" fill="url(#hw)"/><path d="M-6 0A6 6 0 0 1 6 0Z" fill="#e3e3e3"/><path d="M-5.2-.8A5.2 5.2 0 0 1 5.2-.8" fill="none" stroke="#c5c5c5" stroke-width="1.1"/><circle r="3.45" fill="#2e2e2e"/></g>
<g transform="translate(783.9 557.5)"><path d="M-6.3 0A6.3 6.3 0 0 0 6.3 0Z" fill="url(#hw)"/><path d="M-6 0A6 6 0 0 1 6 0Z" fill="#e3e3e3"/><path d="M-5.2-.8A5.2 5.2 0 0 1 5.2-.8" fill="none" stroke="#c5c5c5" stroke-width="1.1"/><circle r="3.45" fill="#2e2e2e"/></g>
<g transform="translate(804.1 557.5)"><path d="M-6.3 0A6.3 6.3 0 0 0 6.3 0Z" fill="url(#hw)"/><path d="M-6 0A6 6 0 0 1 6 0Z" fill="#e3e3e3"/><path d="M-5.2-.8A5.2 5.2 0 0 1 5.2-.8" fill="none" stroke="#c5c5c5" stroke-width="1.1"/><circle r="3.45" fill="#2e2e2e"/></g>
<g transform="translate(824.4 557.5)"><path d="M-6.3 0A6.3 6.3 0 0 0 6.3 0Z" fill="url(#hw)"/><path d="M-6 0A6 6 0 0 1 6 0Z" fill="#e3e3e3"/><path d="M-5.2-.8A5.2 5.2 0 0 1 5.2-.8" fill="none" stroke="#c5c5c5" stroke-width="1.1"/><circle r="3.45" fill="#2e2e2e"/></g>
<g transform="translate(844.7 557.5)"><path d="M-6.3 0A6.3 6.3 0 0 0 6.3 0Z" fill="url(#hw)"/><path d="M-6 0A6 6 0 0 1 6 0Z" fill="#e3e3e3"/><path d="M-5.2-.8A5.2 5.2 0 0 1 5.2-.8" fill="none" stroke="#c5c5c5" stroke-width="1.1"/><circle r="3.45" fill="#2e2e2e"/></g>
<g transform="translate(865 557.5)"><path d="M-6.3 0A6.3 6.3 0 0 0 6.3 0Z" fill="url(#hw)"/><path d="M-6 0A6 6 0 0 1 6 0Z" fill="#e3e3e3"/><path d="M-5.2-.8A5.2 5.2 0 0 1 5.2-.8" fill="none" stroke="#c5c5c5" stroke-width="1.1"/><circle r="3.45" fill="#2e2e2e"/></g>
<g transform="translate(885.3 557.5)"><path d="M-6.3 0A6.3 6.3 0 0 0 6.3 0Z" fill="url(#hw)"/><path d="M-6 0A6 6 0 0 1 6 0Z" fill="#e3e3e3"/><path d="M-5.2-.8A5.2 5.2 0 0 1 5.2-.8" fill="none" stroke="#c5c5c5" stroke-width="1.1"/><circle r="3.45" fill="#2e2e2e"/></g>
<g transform="translate(439.1 293.6)"><path d="M-6.3 0A6.3 6.3 0 0 0 6.3 0Z" fill="url(#hw)"/><path d="M-6 0A6 6 0 0 1 6 0Z" fill="#e3e3e3"/><path d="M-5.2-.8A5.2 5.2 0 0 1 5.2-.8" fill="none" stroke="#c5c5c5" stroke-width="1.1"/><circle r="3.45" fill="#2e2e2e"/></g>
<g transform="translate(459.4 293.6)"><path d="M-6.3 0A6.3 6.3 0 0 0 6.3 0Z" fill="url(#hw)"/><path d="M-6 0A6 6 0 0 1 6 0Z" fill="#e3e3e3"/><path d="M-5.2-.8A5.2 5.2 0 0 1 5.2-.8" fill="none" stroke="#c5c5c5" stroke-width="1.1"/><circle r="3.45" fill="#2e2e2e"/></g>
<g transform="translate(479.7 293.6)"><path d="M-6.3 0A6.3 6.3 0 0 0 6.3 0Z" fill="url(#hw)"/><path d="M-6 0A6 6 0 0 1 6 0Z" fill="#e3e3e3"/><path d="M-5.2-.8A5.2 5.2 0 0 1 5.2-.8" fill="none" stroke="#c5c5c5" stroke-width="1.1"/><circle r="3.45" fill="#2e2e2e"/></g>
<g transform="translate(499.9 293.6)"><path d="M-6.3 0A6.3 6.3 0 0 0 6.3 0Z" fill="url(#hw)"/><path d="M-6 0A6 6 0 0 1 6 0Z" fill="#e3e3e3"/><path d="M-5.2-.8A5.2 5.2 0 0 1 5.2-.8" fill="none" stroke="#c5c5c5" stroke-width="1.1"/><circle r="3.45" fill="#2e2e2e"/></g>
<g transform="translate(520.2 293.6)"><path d="M-6.3 0A6.3 6.3 0 0 0 6.3 0Z" fill="url(#hw)"/><path d="M-6 0A6 6 0 0 1 6 0Z" fill="#e3e3e3"/><path d="M-5.2-.8A5.2 5.2 0 0 1 5.2-.8" fill="none" stroke="#c5c5c5" stroke-width="1.1"/><circle r="3.45" fill="#2e2e2e"/></g>
<g transform="translate(560.8 293.6)"><path d="M-6.3 0A6.3 6.3 0 0 0 6.3 0Z" fill="url(#hw)"/><path d="M-6 0A6 6 0 0 1 6 0Z" fill="#e3e3e3"/><path d="M-5.2-.8A5.2 5.2 0 0 1 5.2-.8" fill="none" stroke="#c5c5c5" stroke-width="1.1"/><circle r="3.45" fill="#2e2e2e"/></g>
<g transform="translate(581.1 293.6)"><path d="M-6.3 0A6.3 6.3 0 0 0 6.3 0Z" fill="url(#hw)"/><path d="M-6 0A6 6 0 0 1 6 0Z" fill="#e3e3e3"/><path d="M-5.2-.8A5.2 5.2 0 0 1 5.2-.8" fill="none" stroke="#c5c5c5" stroke-width="1.1"/><circle r="3.45" fill="#2e2e2e"/></g>
<g transform="translate(601.3 293.6)"><path d="M-6.3 0A6.3 6.3 0 0 0 6.3 0Z" fill="url(#hw)"/><path d="M-6 0A6 6 0 0 1 6 0Z" fill="#e3e3e3"/><path d="M-5.2-.8A5.2 5.2 0 0 1 5.2-.8" fill="none" stroke="#c5c5c5" stroke-width="1.1"/><circle r="3.45" fill="#2e2e2e"/></g>
<g transform="translate(621.6 293.6)"><path d="M-6.3 0A6.3 6.3 0 0 0 6.3 0Z" fill="url(#hw)"/><path d="M-6 0A6 6 0 0 1 6 0Z" fill="#e3e3e3"/><path d="M-5.2-.8A5.2 5.2 0 0 1 5.2-.8" fill="none" stroke="#c5c5c5" stroke-width="1.1"/><circle r="3.45" fill="#2e2e2e"/></g>
<g transform="translate(641.9 293.6)"><path d="M-6.3 0A6.3 6.3 0 0 0 6.3 0Z" fill="url(#hw)"/><path d="M-6 0A6 6 0 0 1 6 0Z" fill="#e3e3e3"/><path d="M-5.2-.8A5.2 5.2 0 0 1 5.2-.8" fill="none" stroke="#c5c5c5" stroke-width="1.1"/><circle r="3.45" fill="#2e2e2e"/></g>
<g transform="translate(682.5 293.6)"><path d="M-6.3 0A6.3 6.3 0 0 0 6.3 0Z" fill="url(#hw)"/><path d="M-6 0A6 6 0 0 1 6 0Z" fill="#e3e3e3"/><path d="M-5.2-.8A5.2 5.2 0 0 1 5.2-.8" fill="none" stroke="#c5c5c5" stroke-width="1.1"/><circle r="3.45" fill="#2e2e2e"/></g>
<g transform="translate(702.7 293.6)"><path d="M-6.3 0A6.3 6.3 0 0 0 6.3 0Z" fill="url(#hw)"/><path d="M-6 0A6 6 0 0 1 6 0Z" fill="#e3e3e3"/><path d="M-5.2-.8A5.2 5.2 0 0 1 5.2-.8" fill="none" stroke="#c5c5c5" stroke-width="1.1"/><circle r="3.45" fill="#2e2e2e"/></g>
<g transform="translate(723 293.6)"><path d="M-6.3 0A6.3 6.3 0 0 0 6.3 0Z" fill="url(#hw)"/><path d="M-6 0A6 6 0 0 1 6 0Z" fill="#e3e3e3"/><path d="M-5.2-.8A5.2 5.2 0 0 1 5.2-.8" fill="none" stroke="#c5c5c5" stroke-width="1.1"/><circle r="3.45" fill="#2e2e2e"/></g>
<g transform="translate(743.3 293.6)"><path d="M-6.3 0A6.3 6.3 0 0 0 6.3 0Z" fill="url(#hw)"/><path d="M-6 0A6 6 0 0 1 6 0Z" fill="#e3e3e3"/><path d="M-5.2-.8A5.2 5.2 0 0 1 5.2-.8" fill="none" stroke="#c5c5c5" stroke-width="1.1"/><circle r="3.45" fill="#2e2e2e"/></g>
<g transform="translate(763.6 293.6)"><path d="M-6.3 0A6.3 6.3 0 0 0 6.3 0Z" fill="url(#hw)"/><path d="M-6 0A6 6 0 0 1 6 0Z" fill="#e3e3e3"/><path d="M-5.2-.8A5.2 5.2 0 0 1 5.2-.8" fill="none" stroke="#c5c5c5" stroke-width="1.1"/><circle r="3.45" fill="#2e2e2e"/></g>
<g transform="translate(804.1 293.6)"><path d="M-6.3 0A6.3 6.3 0 0 0 6.3 0Z" fill="url(#hw)"/><path d="M-6 0A6 6 0 0 1 6 0Z" fill="#e3e3e3"/><path d="M-5.2-.8A5.2 5.2 0 0 1 5.2-.8" fill="none" stroke="#c5c5c5" stroke-width="1.1"/><circle r="3.45" fill="#2e2e2e"/></g>
<g transform="translate(824.4 293.6)"><path d="M-6.3 0A6.3 6.3 0 0 0 6.3 0Z" fill="url(#hw)"/><path d="M-6 0A6 6 0 0 1 6 0Z" fill="#e3e3e3"/><path d="M-5.2-.8A5.2 5.2 0 0 1 5.2-.8" fill="none" stroke="#c5c5c5" stroke-width="1.1"/><circle r="3.45" fill="#2e2e2e"/></g>
<g transform="translate(844.7 293.6)"><path d="M-6.3 0A6.3 6.3 0 0 0 6.3 0Z" fill="url(#hw)"/><path d="M-6 0A6 6 0 0 1 6 0Z" fill="#e3e3e3"/><path d="M-5.2-.8A5.2 5.2 0 0 1 5.2-.8" fill="none" stroke="#c5c5c5" stroke-width="1.1"/><circle r="3.45" fill="#2e2e2e"/></g>
<g transform="translate(865 293.6)"><path d="M-6.3 0A6.3 6.3 0 0 0 6.3 0Z" fill="url(#hw)"/><path d="M-6 0A6 6 0 0 1 6 0Z" fill="#e3e3e3"/><path d="M-5.2-.8A5.2 5.2 0 0 1 5.2-.8" fill="none" stroke="#c5c5c5" stroke-width="1.1"/><circle r="3.45" fill="#2e2e2e"/></g>
<g transform="translate(885.3 293.6)"><path d="M-6.3 0A6.3 6.3 0 0 0 6.3 0Z" fill="url(#hw)"/><path d="M-6 0A6 6 0 0 1 6 0Z" fill="#e3e3e3"/><path d="M-5.2-.8A5.2 5.2 0 0 1 5.2-.8" fill="none" stroke="#c5c5c5" stroke-width="1.1"/><circle r="3.45" fill="#2e2e2e"/></g>
<g transform="translate(439.1 598.1)"><path d="M-6.3 0A6.3 6.3 0 0 0 6.3 0Z" fill="url(#hw)"/><path d="M-6 0A6 6 0 0 1 6 0Z" fill="#e3e3e3"/><path d="M-5.2-.8A5.2 5.2 0 0 1 5.2-.8" fill="none" stroke="#c5c5c5" stroke-width="1.1"/><circle r="3.45" fill="#2e2e2e"/></g>
<g transform="translate(459.4 598.1)"><path d="M-6.3 0A6.3 6.3 0 0 0 6.3 0Z" fill="url(#hw)"/><path d="M-6 0A6 6 0 0 1 6 0Z" fill="#e3e3e3"/><path d="M-5.2-.8A5.2 5.2 0 0 1 5.2-.8" fill="none" stroke="#c5c5c5" stroke-width="1.1"/><circle r="3.45" fill="#2e2e2e"/></g>
<g transform="translate(479.7 598.1)"><path d="M-6.3 0A6.3 6.3 0 0 0 6.3 0Z" fill="url(#hw)"/><path d="M-6 0A6 6 0 0 1 6 0Z" fill="#e3e3e3"/><path d="M-5.2-.8A5.2 5.2 0 0 1 5.2-.8" fill="none" stroke="#c5c5c5" stroke-width="1.1"/><circle r="3.45" fill="#2e2e2e"/></g>
<g transform="translate(499.9 598.1)"><path d="M-6.3 0A6.3 6.3 0 0 0 6.3 0Z" fill="url(#hw)"/><path d="M-6 0A6 6 0 0 1 6 0Z" fill="#e3e3e3"/><path d="M-5.2-.8A5.2 5.2 0 0 1 5.2-.8" fill="none" stroke="#c5c5c5" stroke-width="1.1"/><circle r="3.45" fill="#2e2e2e"/></g>
<g transform="translate(520.2 598.1)"><path d="M-6.3 0A6.3 6.3 0 0 0 6.3 0Z" fill="url(#hw)"/><path d="M-6 0A6 6 0 0 1 6 0Z" fill="#e3e3e3"/><path d="M-5.2-.8A5.2 5.2 0 0 1 5.2-.8" fill="none" stroke="#c5c5c5" stroke-width="1.1"/><circle r="3.45" fill="#2e2e2e"/></g>
<g transform="translate(560.8 598.1)"><path d="M-6.3 0A6.3 6.3 0 0 0 6.3 0Z" fill="url(#hw)"/><path d="M-6 0A6 6 0 0 1 6 0Z" fill="#e3e3e3"/><path d="M-5.2-.8A5.2 5.2 0 0 1 5.2-.8" fill="none" stroke="#c5c5c5" stroke-width="1.1"/><circle r="3.45" fill="#2e2e2e"/></g>
<g transform="translate(581.1 598.1)"><path d="M-6.3 0A6.3 6.3 0 0 0 6.3 0Z" fill="url(#hw)"/><path d="M-6 0A6 6 0 0 1 6 0Z" fill="#e3e3e3"/><path d="M-5.2-.8A5.2 5.2 0 0 1 5.2-.8" fill="none" stroke="#c5c5c5" stroke-width="1.1"/><circle r="3.45" fill="#2e2e2e"/></g>
<g transform="translate(601.3 598.1)"><path d="M-6.3 0A6.3 6.3 0 0 0 6.3 0Z" fill="url(#hw)"/><path d="M-6 0A6 6 0 0 1 6 0Z" fill="#e3e3e3"/><path d="M-5.2-.8A5.2 5.2 0 0 1 5.2-.8" fill="none" stroke="#c5c5c5" stroke-width="1.1"/><circle r="3.45" fill="#2e2e2e"/></g>
<g transform="translate(621.6 598.1)"><path d="M-6.3 0A6.3 6.3 0 0 0 6.3 0Z" fill="url(#hw)"/><path d="M-6 0A6 6 0 0 1 6 0Z" fill="#e3e3e3"/><path d="M-5.2-.8A5.2 5.2 0 0 1 5.2-.8" fill="none" stroke="#c5c5c5" stroke-width="1.1"/><circle r="3.45" fill="#2e2e2e"/></g>
<g transform="translate(641.9 598.1)"><path d="M-6.3 0A6.3 6.3 0 0 0 6.3 0Z" fill="url(#hw)"/><path d="M-6 0A6 6 0 0 1 6 0Z" fill="#e3e3e3"/><path d="M-5.2-.8A5.2 5.2 0 0 1 5.2-.8" fill="none" stroke="#c5c5c5" stroke-width="1.1"/><circle r="3.45" fill="#2e2e2e"/></g>
<g transform="translate(682.5 598.1)"><path d="M-6.3 0A6.3 6.3 0 0 0 6.3 0Z" fill="url(#hw)"/><path d="M-6 0A6 6 0 0 1 6 0Z" fill="#e3e3e3"/><path d="M-5.2-.8A5.2 5.2 0 0 1 5.2-.8" fill="none" stroke="#c5c5c5" stroke-width="1.1"/><circle r="3.45" fill="#2e2e2e"/></g>
<g transform="translate(702.7 598.1)"><path d="M-6.3 0A6.3 6.3 0 0 0 6.3 0Z" fill="url(#hw)"/><path d="M-6 0A6 6 0 0 1 6 0Z" fill="#e3e3e3"/><path d="M-5.2-.8A5.2 5.2 0 0 1 5.2-.8" fill="none" stroke="#c5c5c5" stroke-width="1.1"/><circle r="3.45" fill="#2e2e2e"/></g>
<g transform="translate(723 598.1)"><path d="M-6.3 0A6.3 6.3 0 0 0 6.3 0Z" fill="url(#hw)"/><path d="M-6 0A6 6 0 0 1 6 0Z" fill="#e3e3e3"/><path d="M-5.2-.8A5.2 5.2 0 0 1 5.2-.8" fill="none" stroke="#c5c5c5" stroke-width="1.1"/><circle r="3.45" fill="#2e2e2e"/></g>
<g transform="translate(743.3 598.1)"><path d="M-6.3 0A6.3 6.3 0 0 0 6.3 0Z" fill="url(#hw)"/><path d="M-6 0A6 6 0 0 1 6 0Z" fill="#e3e3e3"/><path d="M-5.2-.8A5.2 5.2 0 0 1 5.2-.8" fill="none" stroke="#c5c5c5" stroke-width="1.1"/><circle r="3.45" fill="#2e2e2e"/></g>
<g transform="translate(763.6 598.1)"><path d="M-6.3 0A6.3 6.3 0 0 0 6.3 0Z" fill="url(#hw)"/><path d="M-6 0A6 6 0 0 1 6 0Z" fill="#e3e3e3"/><path d="M-5.2-.8A5.2 5.2 0 0 1 5.2-.8" fill="none" stroke="#c5c5c5" stroke-width="1.1"/><circle r="3.45" fill="#2e2e2e"/></g>
<g transform="translate(804.1 598.1)"><path d="M-6.3 0A6.3 6.3 0 0 0 6.3 0Z" fill="url(#hw)"/><path d="M-6 0A6 6 0 0 1 6 0Z" fill="#e3e3e3"/><path d="M-5.2-.8A5.2 5.2 0 0 1 5.2-.8" fill="none" stroke="#c5c5c5" stroke-width="1.1"/><circle r="3.45" fill="#2e2e2e"/></g>
<g transform="translate(824.4 598.1)"><path d="M-6.3 0A6.3 6.3 0 0 0 6.3 0Z" fill="url(#hw)"/><path d="M-6 0A6 6 0 0 1 6 0Z" fill="#e3e3e3"/><path d="M-5.2-.8A5.2 5.2 0 0 1 5.2-.8" fill="none" stroke="#c5c5c5" stroke-width="1.1"/><circle r="3.45" fill="#2e2e2e"/></g>
<g transform="translate(844.7 598.1)"><path d="M-6.3 0A6.3 6.3 0 0 0 6.3 0Z" fill="url(#hw)"/><path d="M-6 0A6 6 0 0 1 6 0Z" fill="#e3e3e3"/><path d="M-5.2-.8A5.2 5.2 0 0 1 5.2-.8" fill="none" stroke="#c5c5c5" stroke-width="1.1"/><circle r="3.45" fill="#2e2e2e"/></g>
<g transform="translate(865 598.1)"><path d="M-6.3 0A6.3 6.3 0 0 0 6.3 0Z" fill="url(#hw)"/><path d="M-6 0A6 6 0 0 1 6 0Z" fill="#e3e3e3"/><path d="M-5.2-.8A5.2 5.2 0 0 1 5.2-.8" fill="none" stroke="#c5c5c5" stroke-width="1.1"/><circle r="3.45" fill="#2e2e2e"/></g>
<g transform="translate(885.3 598.1)"><path d="M-6.3 0A6.3 6.3 0 0 0 6.3 0Z" fill="url(#hw)"/><path d="M-6 0A6 6 0 0 1 6 0Z" fill="#e3e3e3"/><path d="M-5.2-.8A5.2 5.2 0 0 1 5.2-.8" fill="none" stroke="#c5c5c5" stroke-width="1.1"/><circle r="3.45" fill="#2e2e2e"/></g>
</g>
<g font-family="'Liberation Sans', sans-serif" font-size="12" fill="#bcbcbc" text-anchor="middle">
<text x="423.3" y="297.2">X</text>
<text x="423.3" y="337.8">A</text>
<text x="423.3" y="358.1">B</text>
<text x="423.3" y="378.4">C</text>
<text x="423.3" y="398.7">D</text>
<text x="423.3" y="419">E</text>
<text x="423.3" y="479.9">F</text>
<text x="423.3" y="500.2">G</text>
<text x="423.3" y="520.5">H</text>
<text x="423.3" y="540.8">I</text>
<text x="423.3" y="561.1">J</text>
<text x="423.3" y="601.7">Y</text>
<text x="439.1" y="319.6">1</text>
<text x="439.1" y="577.8">1</text>
<text x="520.2" y="319.6">5</text>
<text x="520.2" y="577.8">5</text>
<text x="621.6" y="319.6">10</text>
<text x="621.6" y="577.8">10</text>
<text x="723" y="319.6">15</text>
<text x="723" y="577.8">15</text>
<text x="824.4" y="319.6">20</text>
<text x="824.4" y="577.8">20</text>
</g>
</g>
<circle cx="682.5" cy="334.2" r="5.9" fill="#a9dfa9"/>
<circle cx="581.1" cy="354.5" r="5.9" fill="#a9dfa9"/><circle cx="581.1" cy="354.5" r="3.4" fill="#22722a"/>
<circle cx="581.1" cy="374.8" r="5.9" fill="#a9dfa9"/><circle cx="581.1" cy="374.8" r="3.4" fill="#22722a"/>
<circle cx="581.1" cy="415.4" r="5.9" fill="#a9dfa9"/><circle cx="581.1" cy="415.4" r="3.4" fill="#22722a"/>
<circle cx="682.5" cy="354.5" r="5.9" fill="#a9dfa9"/><circle cx="682.5" cy="354.5" r="3.4" fill="#22722a"/>
<circle cx="682.5" cy="415.4" r="5.9" fill="#a9dfa9"/><circle cx="682.5" cy="415.4" r="3.4" fill="#22722a"/>
<circle cx="723" cy="334.2" r="5.9" fill="#a9dfa9"/><circle cx="723" cy="334.2" r="3.4" fill="#22722a"/>
<circle cx="723" cy="395.1" r="5.9" fill="#a9dfa9"/><circle cx="723" cy="395.1" r="3.4" fill="#22722a"/>
<circle cx="723" cy="415.4" r="5.9" fill="#a9dfa9"/><circle cx="723" cy="415.4" r="3.4" fill="#22722a"/>
<circle cx="520.2" cy="476.3" r="5.9" fill="#a9dfa9"/><circle cx="520.2" cy="476.3" r="3.4" fill="#22722a"/>
<circle cx="520.2" cy="537.2" r="5.9" fill="#a9dfa9"/><circle cx="520.2" cy="537.2" r="3.4" fill="#22722a"/>
<circle cx="520.2" cy="557.5" r="5.9" fill="#a9dfa9"/><circle cx="520.2" cy="557.5" r="3.4" fill="#22722a"/>
<circle cx="581.1" cy="476.3" r="5.9" fill="#a9dfa9"/><circle cx="581.1" cy="476.3" r="3.4" fill="#22722a"/>
<circle cx="581.1" cy="496.6" r="5.9" fill="#a9dfa9"/><circle cx="581.1" cy="496.6" r="3.4" fill="#22722a"/>
<circle cx="581.1" cy="537.2" r="5.9" fill="#a9dfa9"/><circle cx="581.1" cy="537.2" r="3.4" fill="#22722a"/>
<circle cx="581.1" cy="557.5" r="5.9" fill="#a9dfa9"/><circle cx="581.1" cy="557.5" r="3.4" fill="#22722a"/>
<linearGradient id="lga" gradientUnits="userSpaceOnUse" x1="697" y1="0" x2="717" y2="0"><stop offset="0" stop-color="#8c8c8c"/><stop offset="1" stop-color="#7cb87c"/></linearGradient>
<path d="M581.1 334.6 H697" stroke="#8c8c8c" stroke-width="5"/>
<path d="M697 334.6 H723" stroke="url(#lga)" stroke-width="5"/>
<circle cx="723" cy="334.2" r="4" fill="#78c078"/>
<clipPath id="resclip"><path d="M-25.8 -6.8 Q-25.8 -9.2 -23 -9.2 H-14 L-9 -8.2 L6 -7.4 Q9 -6.6 11 -6.6 H13 Q15 -9.2 17 -9.2 H23 Q25.8 -9.2 25.8 -6.8 V6.8 Q25.8 9.2 23 9.2 H17 Q15 9.2 13 6.6 H11 Q9 6.6 6 7.4 L-9 8.2 L-14 9.2 H-23 Q-25.8 9.2 -25.8 6.8 Z"/></clipPath>
<g transform="translate(621.3 333.8)"><path d="M-25.8 -6.8 Q-25.8 -9.2 -23 -9.2 H-14 L-9 -8.2 L6 -7.4 Q9 -6.6 11 -6.6 H13 Q15 -9.2 17 -9.2 H23 Q25.8 -9.2 25.8 -6.8 V6.8 Q25.8 9.2 23 9.2 H17 Q15 9.2 13 6.6 H11 Q9 6.6 6 7.4 L-9 8.2 L-14 9.2 H-23 Q-25.8 9.2 -25.8 6.8 Z" fill="url(#resg)"/><g clip-path="url(#resclip)"><rect x="-18.9" y="-10" width="5.4" height="20" fill="#c80f16"/><rect x="-8" y="-10" width="5" height="20" fill="#cc1419"/><rect x="2.5" y="-10" width="5" height="20" fill="#8a4208"/><rect x="18.4" y="-10" width="2.7" height="20" fill="#b8a23a"/><rect x="-26" y="4.5" width="52" height="3.5" fill="#6a4a10" opacity="0.18"/></g></g>
<path d="M520.2 476.3 L531.3 469.3 M576.3 441.3 L588.6 432 L682.5 415.4" fill="none" stroke="#8c8c8c" stroke-width="4.2" stroke-linejoin="round"/>
<path d="M660 419.3 L682.5 415.4" stroke="#80b880" stroke-width="4.2"/>
<path d="M654.5 421.6 L662 420.2" stroke="#5a5a5a" stroke-width="4.4" stroke-linecap="round"/>
<path d="M520.2 476.3 L527.3 471.8" stroke="#86b886" stroke-width="3.6"/>
<circle cx="682.5" cy="415.4" r="4" fill="#78c078"/>
<circle cx="520.2" cy="476.3" r="3.6" fill="#78c078"/>
<g transform="translate(554.4 454.6) rotate(-32)"><path d="M-25.8 -6.8 Q-25.8 -9.2 -23 -9.2 H-14 L-9 -8.2 L6 -7.4 Q9 -6.6 11 -6.6 H13 Q15 -9.2 17 -9.2 H23 Q25.8 -9.2 25.8 -6.8 V6.8 Q25.8 9.2 23 9.2 H17 Q15 9.2 13 6.6 H11 Q9 6.6 6 7.4 L-9 8.2 L-14 9.2 H-23 Q-25.8 9.2 -25.8 6.8 Z" fill="url(#resg)"/><g clip-path="url(#resclip)"><rect x="-18.9" y="-10" width="5.4" height="20" fill="#c80f16"/><rect x="-8" y="-10" width="5" height="20" fill="#cc1419"/><rect x="2.5" y="-10" width="5" height="20" fill="#8a4208"/><rect x="18.4" y="-10" width="2.7" height="20" fill="#b8a23a"/><rect x="-26" y="4.5" width="52" height="3.5" fill="#6a4a10" opacity="0.18"/></g></g>
<path d="M521.8 545.1 H579.5" stroke="#8c8c8c" stroke-width="3.6"/>
<path d="M524.2 545.1 H520.2 V557.5 M577.1 545.1 H581.1 V557.5" fill="none" stroke="#6fb86f" stroke-width="3.8" stroke-linejoin="round"/>
<circle cx="520.2" cy="557.5" r="3.4" fill="#6fb86f"/><circle cx="581.1" cy="557.5" r="3.4" fill="#6fb86f"/>
<g transform="translate(0 0.3)">
<path d="M537.6 529.9 H565.4 Q571.6 536.5 571.6 545.1 Q571.6 553.7 565.4 560.3 H537.6 Q531.1 553.7 531.1 545.1 Q531.1 536.5 537.6 529.9 Z" fill="#121212"/>
<circle cx="534.6" cy="545.1" r="3.2" fill="#8a8a8a"/><circle cx="568.4" cy="545.1" r="3.2" fill="#8a8a8a"/>
<radialGradient id="ldrg" cx="0.35" cy="0.35" r="0.7"><stop offset="0" stop-color="#f6eeee"/><stop offset="0.6" stop-color="#eccaca"/><stop offset="1" stop-color="#dca4a4"/></radialGradient>
<rect x="538.4" y="531.5" width="27" height="27.6" rx="1.5" fill="url(#ldrg)" stroke="#8e2a2a" stroke-width="1.2"/>
<rect x="540.3" y="533.3" width="23.4" height="24" fill="none" stroke="#b85050" stroke-width="0.7"/>
<path d="M544.6 535.6 V538.2 H558.6 V541.6 H549.6 V547 H554.6 V551 H546 V554.4 H559" fill="none" stroke="#9a2424" stroke-width="2.6" stroke-linejoin="miter"/>
<path d="M544.6 535.6 V538.2 H558.6 V541.6 H549.6 V547 H554.6 V551 H546 V554.4 H559" fill="none" stroke="#eea8a8" stroke-width="0.9" stroke-linejoin="miter"/>
</g>
<path d="M845.2 62 V150 M845.9 150 V235" stroke="#8e8e8e" stroke-width="5.2"/>
<path d="M856 62 V67 Q856 70 858.5 72.5 L863 77 Q865.4 79.5 865.4 83 V150" fill="none" stroke="#8e8e8e" stroke-width="5.2" stroke-linejoin="round"/>
<linearGradient id="lg1" gradientUnits="userSpaceOnUse" x1="0" y1="218" x2="0" y2="235"><stop offset="0" stop-color="#8e8e8e"/><stop offset="1" stop-color="#6db46d"/></linearGradient>
<linearGradient id="lg2" gradientUnits="userSpaceOnUse" x1="0" y1="134" x2="0" y2="150"><stop offset="0" stop-color="#8e8e8e"/><stop offset="1" stop-color="#6db46d"/></linearGradient>
<path d="M845.9 218 V235" stroke="url(#lg1)" stroke-width="5.2"/>
<path d="M865.4 134 V150" stroke="url(#lg2)" stroke-width="5.2"/>
<path d="M832.8 48 H871.7 V36.7 Q875.6 39.5 875.6 48 V57 Q875.6 62.5 868 64.8 Q854 67.2 840 64.8 Q832.8 63.2 832.8 58 Z" fill="#e23434"/>
<path d="M832.8 56.5 V20 A19.45 19.45 0 0 1 871.7 20 V55.5 Q852 60.5 832.8 56.5 Z" fill="#f04c4c"/>
<path d="M834 57.8 Q852 62 871 57.5" fill="none" stroke="#f27070" stroke-width="1.1"/>
<path d="M839 55 V22 Q839 9 845 6" fill="none" stroke="#f78585" stroke-width="3.2" stroke-linecap="round"/>
<path d="M858 5 Q863 7 865 10" fill="none" stroke="#f9a0a0" stroke-width="2.2" stroke-linecap="round"/>
<path d="M841.7 25 H865.6 V36.7 H841.7 Z" fill="#d43030"/>
<path d="M851.5 36.7 L864.5 25.5" stroke="#f06060" stroke-width="1.4"/>
<path d="M864.3 36.7 V44.4" stroke="#d84040" stroke-width="1.3"/>
<path d="M-10 151.2 L291 151.2 L306 152.4 L581.0600000000001 152.4 L581.0600000000001 334.2" fill="none" stroke="#ffffff" stroke-opacity="0.45" stroke-width="11" stroke-linecap="round" stroke-linejoin="round"/>
<path d="M-10 151.2 L291 151.2 L306 152.4 L581.0600000000001 152.4 L581.0600000000001 334.2" fill="none" stroke="#123f88" stroke-width="8.6" stroke-linecap="round" stroke-linejoin="round"/>
<path d="M-10 151.2 L291 151.2 L306 152.4 L581.0600000000001 152.4 L581.0600000000001 334.2" fill="none" stroke="#438ade" stroke-width="6.2" stroke-linecap="round" stroke-linejoin="round"/>
<circle cx="581.1" cy="152.4" r="3.7" fill="#2a62bb"/>
<linearGradient id="we1" gradientUnits="userSpaceOnUse" x1="581.06" y1="334.2" x2="581.1" y2="321.2"><stop offset="0" stop-color="#2aa8ae"/><stop offset="0.3" stop-color="#2aa8ae"/><stop offset="1" stop-color="#438ade"/></linearGradient>
<linearGradient id="we1o" gradientUnits="userSpaceOnUse" x1="581.06" y1="334.2" x2="581.1" y2="321.2"><stop offset="0" stop-color="#0f6a5c"/><stop offset="0.3" stop-color="#0f6a5c"/><stop offset="1" stop-color="#123f88"/></linearGradient>
<circle cx="581.06" cy="334.2" r="5.8" fill="#9be29b"/>
<circle cx="581.06" cy="334.2" r="4.3" fill="#0f6a5c"/>
<path d="M581.06 334.2 L581.06 321.70" stroke="url(#we1o)" stroke-width="8.6"/>
<circle cx="581.06" cy="334.2" r="3.1" fill="#2aa8ae"/>
<path d="M581.06 334.2 L581.06 319.70" stroke="url(#we1)" stroke-width="6.2"/>
<path d="M166.8 192.2 L338.2 192.2 L338.2 496.6 L520.22 496.6" fill="none" stroke="#ffffff" stroke-opacity="0.45" stroke-width="11" stroke-linecap="round" stroke-linejoin="round"/>
<path d="M166.8 192.2 L338.2 192.2 L338.2 496.6 L520.22 496.6" fill="none" stroke="#123f88" stroke-width="8.6" stroke-linecap="round" stroke-linejoin="round"/>
<path d="M166.8 192.2 L338.2 192.2 L338.2 496.6 L520.22 496.6" fill="none" stroke="#438ade" stroke-width="6.2" stroke-linecap="round" stroke-linejoin="round"/>
<circle cx="338.2" cy="192.2" r="3.7" fill="#2a62bb"/>
<circle cx="338.2" cy="496.6" r="3.7" fill="#2a62bb"/>
<linearGradient id="he2" gradientUnits="userSpaceOnUse" x1="166.8" y1="192.2" x2="176.8" y2="192.2"><stop offset="0" stop-color="#2aa8ae"/><stop offset="0.4" stop-color="#2aa8ae"/><stop offset="1" stop-color="#438ade"/></linearGradient>
<circle cx="166.8" cy="192.2" r="6.2" fill="#2e8c5a"/>
<path d="M166.8 192.2 H176.8" stroke="url(#he2)" stroke-width="6.2"/>
<circle cx="166.8" cy="192.2" r="4.1" fill="#2aa8ae"/>
<linearGradient id="we3" gradientUnits="userSpaceOnUse" x1="520.22" y1="496.6" x2="507.2" y2="496.6"><stop offset="0" stop-color="#2aa8ae"/><stop offset="0.3" stop-color="#2aa8ae"/><stop offset="1" stop-color="#438ade"/></linearGradient>
<linearGradient id="we3o" gradientUnits="userSpaceOnUse" x1="520.22" y1="496.6" x2="507.2" y2="496.6"><stop offset="0" stop-color="#0f6a5c"/><stop offset="0.3" stop-color="#0f6a5c"/><stop offset="1" stop-color="#123f88"/></linearGradient>
<circle cx="520.22" cy="496.6" r="5.8" fill="#9be29b"/>
<circle cx="520.22" cy="496.6" r="4.3" fill="#0f6a5c"/>
<path d="M520.22 496.6 L507.72 496.60" stroke="url(#we3o)" stroke-width="8.6"/>
<circle cx="520.22" cy="496.6" r="3.1" fill="#2aa8ae"/>
<path d="M520.22 496.6 L505.72 496.60" stroke="url(#we3)" stroke-width="6.2"/>
<path d="M167.4 236.6 L296.7 233.3 L296.7 395.1 L682.46 395.1" fill="none" stroke="#ffffff" stroke-opacity="0.45" stroke-width="11" stroke-linecap="round" stroke-linejoin="round"/>
<path d="M167.4 236.6 L296.7 233.3 L296.7 395.1 L682.46 395.1" fill="none" stroke="#123f88" stroke-width="8.6" stroke-linecap="round" stroke-linejoin="round"/>
<path d="M167.4 236.6 L296.7 233.3 L296.7 395.1 L682.46 395.1" fill="none" stroke="#438ade" stroke-width="6.2" stroke-linecap="round" stroke-linejoin="round"/>
<circle cx="296.7" cy="233.3" r="3.7" fill="#2a62bb"/>
<circle cx="296.7" cy="395.1" r="3.7" fill="#2a62bb"/>
<linearGradient id="he4" gradientUnits="userSpaceOnUse" x1="166.8" y1="236.4" x2="176.8" y2="236.4"><stop offset="0" stop-color="#2aa8ae"/><stop offset="0.4" stop-color="#2aa8ae"/><stop offset="1" stop-color="#438ade"/></linearGradient>
<circle cx="166.8" cy="236.4" r="6.2" fill="#2e8c5a"/>
<path d="M166.8 236.4 H176.8" stroke="url(#he4)" stroke-width="6.2"/>
<circle cx="166.8" cy="236.4" r="4.1" fill="#2aa8ae"/>
<linearGradient id="we5" gradientUnits="userSpaceOnUse" x1="682.46" y1="395.1" x2="669.5" y2="395.1"><stop offset="0" stop-color="#2aa8ae"/><stop offset="0.3" stop-color="#2aa8ae"/><stop offset="1" stop-color="#438ade"/></linearGradient>
<linearGradient id="we5o" gradientUnits="userSpaceOnUse" x1="682.46" y1="395.1" x2="669.5" y2="395.1"><stop offset="0" stop-color="#0f6a5c"/><stop offset="0.3" stop-color="#0f6a5c"/><stop offset="1" stop-color="#123f88"/></linearGradient>
<circle cx="682.46" cy="395.1" r="5.8" fill="#9be29b"/>
<circle cx="682.46" cy="395.1" r="4.3" fill="#0f6a5c"/>
<path d="M682.46 395.1 L669.96 395.10" stroke="url(#we5o)" stroke-width="8.6"/>
<circle cx="682.46" cy="395.1" r="3.1" fill="#2aa8ae"/>
<path d="M682.46 395.1 L667.96 395.10" stroke="url(#we5)" stroke-width="6.2"/>
<path d="M167.4 256.7 L256.7 252.3 L256.7 516.9 L581.0600000000001 516.9" fill="none" stroke="#ffffff" stroke-opacity="0.45" stroke-width="11" stroke-linecap="round" stroke-linejoin="round"/>
<path d="M167.4 256.7 L256.7 252.3 L256.7 516.9 L581.0600000000001 516.9" fill="none" stroke="#123f88" stroke-width="8.6" stroke-linecap="round" stroke-linejoin="round"/>
<path d="M167.4 256.7 L256.7 252.3 L256.7 516.9 L581.0600000000001 516.9" fill="none" stroke="#438ade" stroke-width="6.2" stroke-linecap="round" stroke-linejoin="round"/>
<circle cx="256.7" cy="252.3" r="3.7" fill="#2a62bb"/>
<circle cx="256.7" cy="516.9" r="3.7" fill="#2a62bb"/>
<linearGradient id="he6" gradientUnits="userSpaceOnUse" x1="166.8" y1="256.6" x2="176.8" y2="256.6"><stop offset="0" stop-color="#2aa8ae"/><stop offset="0.4" stop-color="#2aa8ae"/><stop offset="1" stop-color="#438ade"/></linearGradient>
<circle cx="166.8" cy="256.6" r="6.2" fill="#2e8c5a"/>
<path d="M166.8 256.6 H176.8" stroke="url(#he6)" stroke-width="6.2"/>
<circle cx="166.8" cy="256.6" r="4.1" fill="#2aa8ae"/>
<linearGradient id="we7" gradientUnits="userSpaceOnUse" x1="581.06" y1="516.9" x2="568.1" y2="516.9"><stop offset="0" stop-color="#2aa8ae"/><stop offset="0.3" stop-color="#2aa8ae"/><stop offset="1" stop-color="#438ade"/></linearGradient>
<linearGradient id="we7o" gradientUnits="userSpaceOnUse" x1="581.06" y1="516.9" x2="568.1" y2="516.9"><stop offset="0" stop-color="#0f6a5c"/><stop offset="0.3" stop-color="#0f6a5c"/><stop offset="1" stop-color="#123f88"/></linearGradient>
<circle cx="581.06" cy="516.9" r="5.8" fill="#9be29b"/>
<circle cx="581.06" cy="516.9" r="4.3" fill="#0f6a5c"/>
<path d="M581.06 516.9 L568.56 516.90" stroke="url(#we7o)" stroke-width="8.6"/>
<circle cx="581.06" cy="516.9" r="3.1" fill="#2aa8ae"/>
<path d="M581.06 516.9 L566.56 516.90" stroke="url(#we7)" stroke-width="6.2"/>
<path d="M845.9 235 L844.2 354.5 L723.02 354.5" fill="none" stroke="#ffffff" stroke-opacity="0.45" stroke-width="11" stroke-linecap="round" stroke-linejoin="round"/>
<path d="M845.9 235 L844.2 354.5 L723.02 354.5" fill="none" stroke="#123f88" stroke-width="8.6" stroke-linecap="round" stroke-linejoin="round"/>
<path d="M845.9 235 L844.2 354.5 L723.02 354.5" fill="none" stroke="#438ade" stroke-width="6.2" stroke-linecap="round" stroke-linejoin="round"/>
<circle cx="844.2" cy="354.5" r="3.7" fill="#2a62bb"/>
<linearGradient id="we8" gradientUnits="userSpaceOnUse" x1="845.9" y1="235" x2="845.9" y2="248.0"><stop offset="0" stop-color="#2aa8ae"/><stop offset="0.3" stop-color="#2aa8ae"/><stop offset="1" stop-color="#438ade"/></linearGradient>
<linearGradient id="we8o" gradientUnits="userSpaceOnUse" x1="845.9" y1="235" x2="845.9" y2="248.0"><stop offset="0" stop-color="#0f6a5c"/><stop offset="0.3" stop-color="#0f6a5c"/><stop offset="1" stop-color="#123f88"/></linearGradient>
<circle cx="845.9" cy="235" r="4.3" fill="#0f6a5c"/>
<path d="M845.9 235 L845.90 247.50" stroke="url(#we8o)" stroke-width="8.6"/>
<circle cx="845.9" cy="235" r="3.1" fill="#2aa8ae"/>
<path d="M845.9 235 L845.90 249.50" stroke="url(#we8)" stroke-width="6.2"/>
<linearGradient id="we9" gradientUnits="userSpaceOnUse" x1="723.02" y1="354.5" x2="736.0" y2="354.5"><stop offset="0" stop-color="#2aa8ae"/><stop offset="0.3" stop-color="#2aa8ae"/><stop offset="1" stop-color="#438ade"/></linearGradient>
<linearGradient id="we9o" gradientUnits="userSpaceOnUse" x1="723.02" y1="354.5" x2="736.0" y2="354.5"><stop offset="0" stop-color="#0f6a5c"/><stop offset="0.3" stop-color="#0f6a5c"/><stop offset="1" stop-color="#123f88"/></linearGradient>
<circle cx="723.02" cy="354.5" r="5.8" fill="#9be29b"/>
<circle cx="723.02" cy="354.5" r="4.3" fill="#0f6a5c"/>
<path d="M723.02 354.5 L735.52 354.50" stroke="url(#we9o)" stroke-width="8.6"/>
<circle cx="723.02" cy="354.5" r="3.1" fill="#2aa8ae"/>
<path d="M723.02 354.5 L737.52 354.50" stroke="url(#we9)" stroke-width="6.2"/>
<path d="M865.5 150.5 L865.9 374.8 L682.46 374.8" fill="none" stroke="#ffffff" stroke-opacity="0.45" stroke-width="11" stroke-linecap="round" stroke-linejoin="round"/>
<path d="M865.5 150.5 L865.9 374.8 L682.46 374.8" fill="none" stroke="#123f88" stroke-width="8.6" stroke-linecap="round" stroke-linejoin="round"/>
<path d="M865.5 150.5 L865.9 374.8 L682.46 374.8" fill="none" stroke="#438ade" stroke-width="6.2" stroke-linecap="round" stroke-linejoin="round"/>
<circle cx="865.9" cy="374.8" r="3.7" fill="#2a62bb"/>
<linearGradient id="we10" gradientUnits="userSpaceOnUse" x1="865.5" y1="150.5" x2="865.5" y2="163.5"><stop offset="0" stop-color="#2aa8ae"/><stop offset="0.3" stop-color="#2aa8ae"/><stop offset="1" stop-color="#438ade"/></linearGradient>
<linearGradient id="we10o" gradientUnits="userSpaceOnUse" x1="865.5" y1="150.5" x2="865.5" y2="163.5"><stop offset="0" stop-color="#0f6a5c"/><stop offset="0.3" stop-color="#0f6a5c"/><stop offset="1" stop-color="#123f88"/></linearGradient>
<circle cx="865.5" cy="150.5" r="4.3" fill="#0f6a5c"/>
<path d="M865.5 150.5 L865.50 163.00" stroke="url(#we10o)" stroke-width="8.6"/>
<circle cx="865.5" cy="150.5" r="3.1" fill="#2aa8ae"/>
<path d="M865.5 150.5 L865.50 165.00" stroke="url(#we10)" stroke-width="6.2"/>
<linearGradient id="we11" gradientUnits="userSpaceOnUse" x1="682.46" y1="374.8" x2="695.5" y2="374.8"><stop offset="0" stop-color="#2aa8ae"/><stop offset="0.3" stop-color="#2aa8ae"/><stop offset="1" stop-color="#438ade"/></linearGradient>
<linearGradient id="we11o" gradientUnits="userSpaceOnUse" x1="682.46" y1="374.8" x2="695.5" y2="374.8"><stop offset="0" stop-color="#0f6a5c"/><stop offset="0.3" stop-color="#0f6a5c"/><stop offset="1" stop-color="#123f88"/></linearGradient>
<circle cx="682.46" cy="374.8" r="5.8" fill="#9be29b"/>
<circle cx="682.46" cy="374.8" r="4.3" fill="#0f6a5c"/>
<path d="M682.46 374.8 L694.96 374.80" stroke="url(#we11o)" stroke-width="8.6"/>
<circle cx="682.46" cy="374.8" r="3.1" fill="#2aa8ae"/>
<path d="M682.46 374.8 L696.96 374.80" stroke="url(#we11)" stroke-width="6.2"/>
<path d="M866.6 666 V648 Q866.6 642.5 872.5 642.5 H873.2 M861.5 650.5 H872.5" fill="none" stroke="#7a7a7a" stroke-width="2.9" stroke-linecap="round"/>
<path d="M879.1 662 V650.5 M879.1 655.5 Q881 650.5 888.5 650.5" fill="none" stroke="#7a7a7a" stroke-width="2.9" stroke-linecap="round"/>
<circle cx="879.1" cy="665.2" r="3" fill="none" stroke="#7a7a7a" stroke-width="2.9" stroke-linecap="round"/>
<path d="M897.3 666 V650.5 H893.5" fill="none" stroke="#7a7a7a" stroke-width="2.9" stroke-linecap="round"/>
<circle cx="897.3" cy="642.8" r="2.8" fill="none" stroke="#7a7a7a" stroke-width="2.9" stroke-linecap="round"/>
</svg>
</body></html>
